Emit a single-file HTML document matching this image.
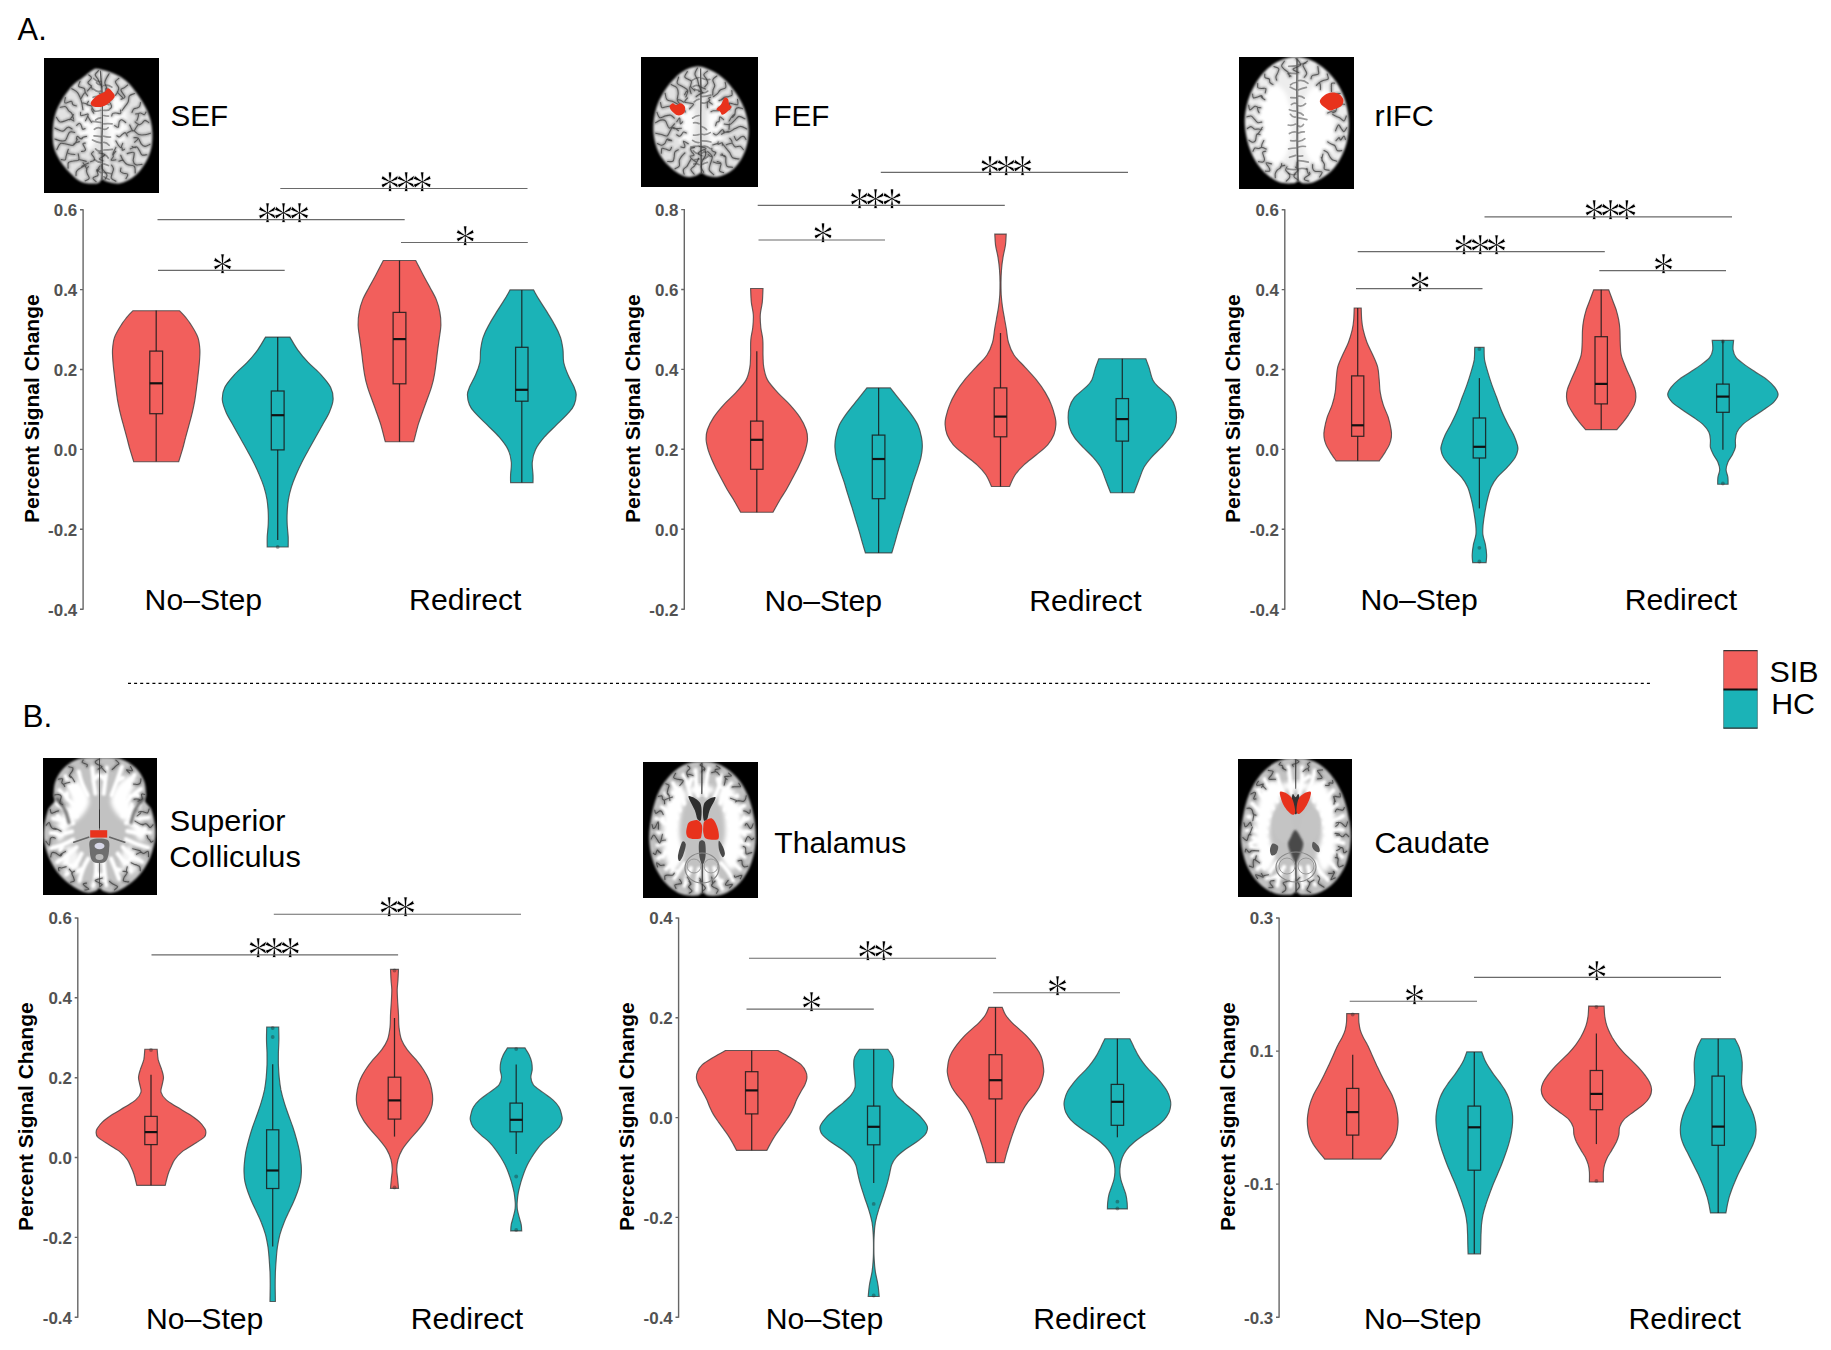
<!DOCTYPE html>
<html><head><meta charset="utf-8"><title>Figure</title>
<style>
html,body{margin:0;padding:0;background:#fff}
svg{display:block}
text{font-family:"Liberation Sans",sans-serif}
.tk{font-weight:bold;font-size:16px;fill:#525252;text-anchor:end}
.yl{font-weight:bold;font-size:21px;fill:#000;text-anchor:middle}
.lb{fill:#000}
.xl{font-size:30.2px;fill:#000}
.ax{stroke:#666;stroke-width:1.4;fill:none}
.sg{stroke:#6a6a6a;stroke-width:1.1}
.wk{stroke:#1a1a1a;stroke-width:1.25;stroke-opacity:.85}
.bx{stroke:#1a1a1a;stroke-width:1.25;stroke-opacity:.85}
.md{stroke:#111;stroke-width:2.2}
.as{font-family:"Liberation Serif",serif;font-size:44px;fill:#000;stroke:#fff;stroke-width:.6;text-anchor:middle}
</style></head><body>
<svg width="1831" height="1350" viewBox="0 0 1831 1350">
<rect width="1831" height="1350" fill="#fff"/>
<defs>
<filter id="b1" x="-10%" y="-10%" width="120%" height="120%"><feGaussianBlur stdDeviation="1.1"/></filter>
<filter id="b2" x="-10%" y="-10%" width="120%" height="120%"><feGaussianBlur stdDeviation="0.6"/></filter>
<filter id="b3" x="-20%" y="-20%" width="140%" height="140%"><feGaussianBlur stdDeviation="2.2"/></filter>
<filter id="b0" x="-10%" y="-10%" width="120%" height="120%"><feGaussianBlur stdDeviation="0.35"/></filter>
</defs>
<clipPath id="cp1"><rect x="44" y="58" width="115" height="135"/></clipPath>
<rect x="44" y="58" width="115" height="135" fill="#000"/>
<g clip-path="url(#cp1)">
<path d="M98.5 69.0C102.1 69.6 109.5 71.8 114.1 73.8C118.7 75.8 122.1 77.5 126.2 81.1C130.2 84.7 134.6 90.3 138.2 95.5C141.8 100.7 145.5 106.7 147.8 112.3C150.1 117.9 151.4 123.3 152.0 129.1C152.6 134.9 152.5 141.6 151.4 147.2C150.3 152.8 148.2 158.0 145.4 162.8C142.6 167.6 138.8 172.6 134.6 176.0C130.4 179.4 124.8 182.3 120.1 183.2C115.5 184.1 109.9 182.1 106.9 181.4C103.9 180.7 103.7 178.7 102.1 179.0C100.5 179.3 100.7 182.7 97.3 183.2C93.9 183.7 86.3 183.8 81.7 182.0C77.1 180.2 73.3 176.0 69.7 172.4C66.1 168.8 62.7 164.6 60.0 160.4C57.4 156.2 55.2 152.0 54.0 147.2C52.8 142.4 52.6 136.9 52.8 131.5C53.0 126.1 53.6 120.1 55.2 114.7C56.8 109.3 59.6 103.9 62.5 99.1C65.3 94.3 68.7 89.5 72.1 85.9C75.5 82.3 79.5 80.1 82.9 77.5C86.3 74.8 89.9 71.6 92.5 70.2C95.1 68.8 94.9 68.4 98.5 69.0Z" fill="#e2e2e2" filter="url(#b1)"/>
<ellipse cx="88" cy="122" rx="10" ry="28" fill="#fff" fill-opacity=".9" filter="url(#b3)"/><ellipse cx="117" cy="122" rx="10" ry="30" fill="#fff" fill-opacity=".9" filter="url(#b3)"/>
<path d="M100.8 81.4q-3.6 1.3 -7.1 -2.9M100.8 84.5q-2.1 0.8 -4.3 -1.8M103.8 85.5q4.0 -1.3 8.1 1.6M100.8 91.1q-3.6 1.6 -7.2 -1.9M103.8 92.7q4.4 -1.0 8.7 2.9M100.8 97.2q-3.8 -1.9 -7.7 0.1M103.8 97.1q3.0 -0.8 6.0 -2.6M100.8 103.6q-3.4 -1.6 -6.8 2.1M103.8 104.2q2.5 -0.7 5.1 0.5M100.8 110.3q-3.6 1.4 -7.1 0.7M103.8 110.3q2.5 0.0 4.9 -0.2M100.8 117.8q-2.6 -0.0 -5.2 2.2M103.8 115.5q2.3 0.5 4.6 0.6M100.8 122.5q-4.2 -0.7 -8.3 -1.1M103.8 123.8q4.2 -0.4 8.3 -0.0M100.8 128.3q-3.3 -1.9 -6.5 1.0M103.8 129.2q2.2 0.8 4.3 -1.5M100.8 136.7q-3.4 -0.8 -6.8 -0.9M103.8 136.2q3.3 1.0 6.7 0.8M100.8 142.9q-4.1 -0.7 -8.3 -2.9M103.8 142.4q2.6 -0.2 5.3 2.9M100.8 150.9q-2.6 1.1 -5.3 -2.0M103.8 150.0q4.3 -0.0 8.5 -0.6M103.8 155.5q2.2 -1.4 4.4 2.5M100.8 162.4q-3.1 -0.1 -6.3 -2.9M103.8 163.9q2.3 0.7 4.6 1.6M100.8 172.6q-2.0 -1.6 -4.0 -2.7M103.8 172.3q3.6 0.2 7.3 1.4M103.8 176.7q2.6 1.4 5.3 2.9" fill="none" stroke="#4a4a4a" stroke-width="1.7" stroke-linecap="round" stroke-opacity=".55" filter="url(#b2)"/><defs><path id="su1" d="M98.6 70.5C98.0 71.2 95.3 73.4 95.2 74.7C95.0 76.1 97.0 77.4 97.7 78.7C98.4 80.1 98.9 81.4 99.6 82.8C100.3 84.1 101.6 86.1 102.0 86.8M109.1 73.8C108.6 74.6 107.1 76.7 106.4 78.2C105.7 79.7 104.8 81.2 104.8 82.8C104.9 84.4 106.2 86.1 106.7 87.8C107.3 89.5 107.7 91.9 107.9 92.8M106.7 87.8q-2.0 -0.3 -0.0 8.2M118.9 78.4C118.4 79.0 115.4 80.3 115.4 81.8C115.3 83.3 118.2 85.8 118.6 87.5C119.0 89.1 118.3 90.4 117.7 91.7C117.2 93.1 115.7 94.8 115.3 95.5M117.7 91.7q-1.9 -0.7 5.0 6.0M127.6 85.0C127.1 85.4 125.5 86.8 124.4 87.6C123.2 88.5 120.8 88.6 120.9 90.1C121.0 91.7 125.0 95.5 125.0 97.0C125.0 98.5 121.7 98.8 121.0 99.2M134.6 93.5C133.7 93.9 130.5 94.5 129.4 95.9C128.4 97.3 128.9 100.1 128.2 101.8C127.5 103.5 126.2 104.7 125.2 106.1C124.2 107.6 122.6 109.7 122.1 110.4M140.5 102.6C140.3 103.3 140.1 105.6 139.5 106.5C138.8 107.4 137.6 107.6 136.7 108.1C135.7 108.5 134.3 108.4 133.6 109.1C132.8 109.9 132.3 111.9 132.0 112.4M146.0 112.1C145.7 112.5 145.1 114.6 144.3 114.7C143.4 114.9 141.7 113.1 140.7 113.0C139.7 112.8 139.1 113.5 138.2 113.7C137.4 113.8 136.0 113.9 135.6 114.0M138.2 113.7q0.8 1.8 -1.3 6.8M148.8 122.6C148.2 122.2 146.1 120.3 145.0 120.4C143.9 120.5 143.1 122.3 142.1 123.1C141.1 123.8 140.2 124.9 139.0 124.7C137.8 124.5 135.7 122.3 135.1 121.9M139.0 124.7q-0.3 -2.0 -4.7 6.1M150.4 133.3C149.4 133.6 146.4 134.6 144.5 134.8C142.5 135.0 140.6 135.2 138.7 134.5C136.8 133.8 135.0 130.7 133.1 130.5C131.2 130.2 128.2 132.6 127.2 133.0M133.1 130.5q-0.1 2.0 -3.4 -5.5M150.0 144.3C149.2 144.6 146.5 146.5 145.0 146.4C143.5 146.3 142.3 145.3 141.2 143.9C140.1 142.5 139.5 139.2 138.3 138.2C137.0 137.1 134.6 137.8 133.9 137.7M138.3 138.2q-0.5 1.9 -3.7 4.0M146.9 154.7C146.1 154.7 143.2 155.6 141.9 154.9C140.7 154.1 140.3 151.7 139.3 150.4C138.4 149.0 137.8 146.9 136.3 146.7C134.8 146.4 131.3 148.5 130.3 148.9M136.3 146.7q-0.9 1.8 -4.2 -0.1M142.1 164.4C141.1 164.5 137.4 165.4 135.9 164.8C134.4 164.2 133.5 162.9 133.2 160.8C132.9 158.8 135.0 153.7 134.0 152.5C133.0 151.3 128.4 153.4 127.2 153.6M135.2 172.9C135.1 171.8 135.6 167.7 134.3 166.3C132.9 164.9 129.2 165.6 127.3 164.6C125.5 163.6 124.4 162.1 123.3 160.6C122.2 159.0 121.1 156.2 120.7 155.3M123.3 160.6q1.5 -1.3 -4.4 0.6M126.0 178.6C126.3 177.9 128.2 175.2 127.8 174.4C127.4 173.5 124.9 173.7 123.7 173.3C122.5 172.8 121.0 172.5 120.6 171.6C120.1 170.8 120.9 168.7 121.0 168.1M115.9 181.3C115.1 180.8 112.0 179.5 111.3 178.2C110.7 177.0 111.8 175.2 112.1 173.6C112.5 172.1 113.6 170.3 113.5 168.9C113.4 167.4 112.0 165.7 111.6 165.1M105.2 179.1C105.5 178.5 107.1 176.5 107.0 175.2C106.9 174.0 105.5 172.9 104.7 171.7C103.9 170.6 102.6 169.4 102.1 168.2C101.6 167.1 101.8 165.2 101.7 164.6M96.1 181.6C95.6 181.0 92.6 179.1 92.9 178.1C93.2 177.0 97.1 176.3 97.9 175.3C98.7 174.3 97.2 173.1 97.5 172.0C97.7 170.9 99.1 169.4 99.4 168.9M97.5 172.0q-2.0 -0.2 2.5 -6.0M85.2 180.8C85.9 180.4 88.9 179.5 89.2 178.3C89.6 177.2 87.8 175.3 87.3 173.9C86.8 172.5 86.2 171.1 86.4 169.9C86.5 168.6 88.0 167.2 88.3 166.7M86.4 169.9q1.9 0.6 -3.3 -7.1M76.0 175.6C76.1 175.0 75.9 172.9 76.3 171.8C76.7 170.8 77.7 170.0 78.6 169.2C79.6 168.4 80.8 167.8 82.0 167.2C83.3 166.5 85.4 165.8 86.1 165.5M82.0 167.2q-1.7 -1.0 6.6 -4.1M68.1 168.1C68.2 167.2 67.6 163.8 68.4 162.6C69.3 161.4 71.5 161.4 73.2 161.0C74.9 160.5 77.9 161.2 78.7 160.0C79.6 158.8 78.3 154.8 78.2 153.7M78.7 160.0q-1.5 -1.3 7.5 1.4M61.3 159.6C62.0 159.6 64.4 160.5 65.2 159.9C66.0 159.3 65.8 157.4 66.1 156.2C66.5 154.9 66.8 153.7 67.2 152.5C67.5 151.3 68.2 149.7 68.4 149.2M67.2 152.5q1.2 1.6 7.7 2.0M56.8 149.6C57.4 148.6 58.7 144.4 60.4 143.5C62.1 142.6 64.8 144.0 67.0 144.3C69.2 144.6 71.9 146.0 73.6 145.1C75.3 144.2 76.7 140.2 77.3 139.2M73.6 145.1q-0.8 -1.8 5.8 -3.5M54.9 139.0C55.8 139.3 58.7 140.6 60.5 140.8C62.3 141.0 64.1 141.5 65.6 140.1C67.1 138.6 68.0 133.4 69.5 132.2C71.1 130.9 74.0 132.4 74.8 132.5M54.8 128.1C55.5 128.5 57.6 129.6 59.0 130.1C60.4 130.6 61.8 131.5 63.3 131.0C64.8 130.5 66.4 127.5 67.9 127.2C69.3 126.8 71.4 128.6 72.1 128.9M56.4 117.3C56.9 118.1 58.3 121.1 59.7 121.8C61.0 122.4 62.8 121.6 64.5 121.1C66.2 120.7 68.2 119.2 69.8 119.2C71.4 119.2 73.2 120.7 73.9 121.0M69.8 119.2q-0.6 1.9 3.7 -4.6M60.3 107.2C61.2 107.2 64.4 106.2 65.7 106.7C67.1 107.3 67.5 109.5 68.5 110.7C69.5 111.8 71.0 112.1 71.9 113.6C72.7 115.0 73.3 118.3 73.6 119.2M65.4 97.6C65.3 98.5 64.0 102.4 65.0 103.0C66.0 103.6 70.0 101.0 71.4 101.3C72.7 101.6 72.0 103.9 72.9 104.7C73.7 105.5 75.8 105.7 76.4 105.9M71.8 88.7C72.7 89.3 75.8 90.7 77.1 92.2C78.5 93.6 79.2 95.5 80.0 97.4C80.8 99.3 81.4 101.2 81.9 103.3C82.3 105.4 82.7 108.7 82.9 109.7M81.9 103.3q1.7 -1.1 6.5 1.6M80.0 81.5C79.8 82.3 78.0 85.3 78.7 86.4C79.4 87.6 83.1 87.5 84.2 88.5C85.3 89.5 84.7 91.2 85.3 92.4C85.8 93.6 87.2 95.3 87.6 95.8M85.3 92.4q-1.8 0.8 -4.0 5.9M88.7 74.8C89.2 75.3 91.7 76.7 91.5 78.0C91.4 79.3 88.0 81.3 87.9 82.6C87.8 83.9 90.2 84.6 90.9 85.7C91.6 86.8 92.1 88.6 92.3 89.2M90.9 85.7q2.0 -0.4 -3.4 5.1M99.6 93.3C100.0 93.8 102.3 95.0 102.1 96.0C102.0 96.9 99.7 97.8 98.8 98.8C97.9 99.7 97.0 100.6 96.7 101.5C96.4 102.4 97.1 103.8 97.1 104.2M112.0 99.3C111.5 99.6 109.0 100.0 108.8 100.8C108.6 101.7 110.5 103.2 110.9 104.2C111.4 105.3 111.7 106.3 111.5 107.1C111.3 107.9 109.9 108.7 109.6 109.1M120.5 110.0C120.5 110.6 121.3 113.1 120.5 113.6C119.8 114.1 117.4 113.0 116.1 113.0C114.8 113.0 113.5 112.9 112.8 113.4C112.0 113.9 111.9 115.5 111.7 115.9M125.8 122.6C125.2 122.1 122.9 119.9 121.8 119.7C120.7 119.6 119.9 120.3 119.3 121.5C118.7 122.8 119.0 126.6 118.2 127.2C117.4 127.9 115.2 125.9 114.6 125.6M127.3 136.1C127.0 135.5 126.1 133.0 125.3 132.7C124.5 132.4 123.4 133.6 122.4 134.3C121.3 135.0 120.2 136.7 119.2 136.9C118.3 137.1 117.2 135.9 116.8 135.7M124.4 149.4C124.0 149.5 122.6 150.3 122.2 150.1C121.9 149.9 122.4 148.6 122.2 148.1C122.0 147.7 121.2 148.1 121.3 147.3C121.3 146.5 122.5 144.0 122.7 143.3M121.3 147.3q-1.2 1.6 -5.4 -6.4M115.8 159.8C115.0 159.9 111.5 160.6 111.1 160.2C110.6 159.7 112.8 157.8 113.2 156.9C113.5 156.0 112.8 155.7 113.3 154.8C113.7 153.8 115.3 151.9 115.7 151.4M113.3 154.8q-1.8 0.9 2.6 -7.4M103.0 160.8C102.4 160.5 99.5 159.7 99.4 159.0C99.3 158.3 101.6 157.5 102.5 156.7C103.4 155.9 105.3 155.1 104.7 154.5C104.1 153.8 99.9 153.1 98.9 152.8M90.6 161.7C91.2 161.5 93.7 160.9 94.2 160.2C94.8 159.5 94.3 158.4 93.9 157.3C93.4 156.3 91.6 154.8 91.5 153.8C91.4 152.9 93.1 152.1 93.4 151.7M81.5 151.5C81.9 151.4 83.5 151.4 84.2 151.1C84.9 150.7 85.7 150.5 85.5 149.3C85.3 148.1 83.0 144.9 82.9 143.9C82.9 142.8 84.9 143.2 85.3 143.1M76.4 139.0C76.5 138.5 76.7 136.4 77.2 136.2C77.8 136.0 78.8 137.5 79.5 138.0C80.3 138.4 81.1 139.1 81.6 139.0C82.2 138.9 82.7 137.7 82.9 137.4M81.6 139.0q-0.6 -1.9 5.0 -2.6M76.7 125.4C77.1 125.0 78.7 123.2 79.5 123.2C80.2 123.2 80.7 124.4 81.2 125.3C81.8 126.3 82.0 128.6 82.6 129.2C83.3 129.7 84.6 128.7 85.1 128.6M80.6 112.4C80.6 112.9 80.1 115.2 80.8 115.6C81.4 116.0 83.3 115.2 84.5 115.0C85.7 114.8 88.0 113.4 88.2 114.4C88.4 115.3 85.9 119.7 85.5 120.7M88.2 114.4q-1.4 1.5 3.4 7.9M88.5 101.2C88.2 101.8 86.4 104.0 86.9 104.7C87.4 105.5 90.5 105.2 91.4 105.8C92.3 106.4 91.8 107.5 92.3 108.3C92.7 109.0 93.8 110.0 94.1 110.4M92.3 108.3q-1.8 0.8 1.4 4.9"/></defs><g fill="none" stroke-linecap="round"><use href="#su1" stroke="#555" stroke-width="3" stroke-opacity=".5" filter="url(#b1)"/><use href="#su1" stroke="#2a2a2a" stroke-width="1.1" stroke-opacity=".6" filter="url(#b2)"/></g>
<defs><path id="fi1" d="M100.3 70.8C100.6 74.5 101.7 85.4 102.1 93.1C102.5 100.8 102.8 109.1 102.7 117.1C102.7 125.1 101.9 133.1 101.9 141.2C101.8 149.2 102.4 158.8 102.4 165.2C102.4 171.6 102.0 177.2 101.9 179.6"/></defs><g fill="none"><use href="#fi1" stroke="#555" stroke-width="3.2" stroke-opacity=".45" filter="url(#b1)"/><use href="#fi1" stroke="#333" stroke-width="1.2" stroke-opacity=".7" filter="url(#b2)"/></g>
<path d="M90.7 102.7C91.3 100.8 95.0 97.3 97.3 95.5C99.6 93.7 102.7 93.1 104.5 91.9C106.3 90.7 106.7 88.2 108.1 88.3C109.5 88.4 111.8 91.1 112.9 92.5C114.0 93.9 115.1 95.2 114.7 96.7C114.3 98.2 111.8 100.2 110.5 101.5C109.2 102.8 108.5 103.6 106.9 104.5C105.3 105.4 103.1 106.6 100.9 106.9C98.7 107.2 95.4 107.2 93.7 106.5C92.0 105.8 90.1 104.5 90.7 102.7Z" fill="#E8311F" filter="url(#b0)"/>
</g>
<clipPath id="cp2"><rect x="641" y="57" width="117" height="130"/></clipPath>
<rect x="641" y="57" width="117" height="130" fill="#000"/>
<g clip-path="url(#cp2)">
<path d="M697.3 66.6C702.1 66.5 707.1 68.6 711.7 70.8C716.3 73.0 720.9 76.1 725.0 79.9C729.0 83.6 732.6 88.3 735.8 93.1C739.0 97.9 742.1 103.1 744.2 108.7C746.3 114.3 747.9 120.9 748.4 126.7C748.9 132.5 748.3 138.3 747.2 143.6C746.1 148.8 744.3 153.6 741.8 158.0C739.3 162.4 736.0 166.9 732.2 170.0C728.4 173.1 723.1 175.7 718.9 176.6C714.7 177.5 709.8 176.1 706.9 175.4C704.0 174.7 703.3 172.4 701.5 172.4C699.7 172.4 698.8 174.7 696.1 175.4C693.4 176.1 689.3 177.7 685.3 176.6C681.3 175.5 676.1 172.1 672.1 168.8C668.1 165.5 664.1 161.2 661.2 156.8C658.4 152.4 656.5 147.4 655.2 142.4C653.9 137.3 653.3 132.1 653.4 126.7C653.5 121.3 654.3 115.3 655.8 109.9C657.3 104.5 659.7 99.1 662.5 94.3C665.2 89.5 668.7 84.9 672.1 81.1C675.5 77.3 678.7 73.8 682.9 71.4C687.1 69.0 692.5 66.7 697.3 66.6Z" fill="#e2e2e2" filter="url(#b1)"/>
<ellipse cx="686" cy="122" rx="9" ry="26" fill="#fff" fill-opacity=".9" filter="url(#b3)"/><ellipse cx="716" cy="122" rx="9" ry="28" fill="#fff" fill-opacity=".9" filter="url(#b3)"/>
<path d="M699.1 77.5q-3.5 0.2 -7.0 2.9M702.1 78.3q3.8 1.9 7.7 1.1M699.1 85.8q-2.9 -1.1 -5.9 0.8M699.1 90.3q-2.2 -0.3 -4.5 -1.1M702.1 92.8q2.9 0.5 5.7 -1.7M699.1 99.2q-2.5 0.3 -4.9 2.7M702.1 96.7q4.4 -0.3 8.8 -1.7M702.1 102.9q2.2 0.7 4.3 -0.4M699.1 115.5q-3.2 -0.2 -6.5 2.7M699.1 123.6q-2.8 -1.2 -5.5 -0.8M702.1 126.7q2.3 0.6 4.5 2.9M699.1 134.5q-2.8 1.0 -5.6 0.7M702.1 134.2q4.1 1.2 8.1 -1.6M699.1 142.5q-3.2 0.4 -6.5 -2.1M702.1 140.8q4.4 -0.1 8.8 1.2M699.1 146.1q-4.1 0.1 -8.3 1.0M702.1 146.7q4.0 -1.7 8.1 2.0M699.1 153.6q-2.9 0.5 -5.8 -2.8M702.1 153.1q2.1 -1.7 4.2 -0.9M699.1 159.0q-2.1 0.6 -4.2 0.7M702.1 159.3q2.9 0.1 5.8 -2.9M699.1 164.7q-2.7 -1.7 -5.4 -0.7M702.1 164.5q2.6 -1.4 5.2 -2.1" fill="none" stroke="#4a4a4a" stroke-width="1.7" stroke-linecap="round" stroke-opacity=".55" filter="url(#b2)"/><defs><path id="su2" d="M697.4 68.1C697.0 69.1 694.9 72.1 694.9 74.0C694.9 75.9 696.8 77.7 697.5 79.6C698.1 81.5 698.2 83.4 698.9 85.3C699.5 87.2 700.9 90.0 701.3 90.9M698.9 85.3q-2.0 0.1 6.5 3.8M707.5 71.2C706.9 71.7 704.0 73.4 703.8 74.7C703.6 76.0 705.8 77.6 706.5 79.0C707.1 80.5 708.0 81.9 707.7 83.2C707.4 84.5 705.2 86.2 704.7 86.8M716.8 76.0C716.1 76.7 713.2 78.3 712.8 79.8C712.5 81.4 714.7 83.8 714.7 85.5C714.8 87.1 713.4 88.4 713.1 90.0C712.7 91.6 712.8 94.1 712.7 94.9M725.2 82.3C725.3 83.2 726.5 86.5 725.7 87.7C724.9 89.0 721.7 89.0 720.3 90.0C718.9 91.0 718.6 92.5 717.4 93.6C716.3 94.7 714.1 96.1 713.4 96.6M731.8 90.5C731.8 91.3 732.5 94.1 732.0 95.1C731.4 96.1 729.7 96.2 728.4 96.6C727.1 96.9 725.2 96.9 724.0 97.4C722.8 97.9 721.7 99.2 721.3 99.5M724.0 97.4q1.6 1.3 -5.0 3.2M737.5 99.4C737.5 100.2 738.5 103.9 737.8 104.6C737.1 105.4 734.9 104.3 733.4 104.0C731.9 103.8 729.4 102.4 728.8 103.2C728.1 104.0 729.3 108.0 729.4 108.9M728.8 103.2q1.3 1.6 0.8 6.3M742.4 108.6C741.8 108.5 739.5 107.5 738.4 107.6C737.3 107.7 736.2 108.0 735.6 109.2C735.0 110.3 735.3 113.3 734.8 114.7C734.2 116.0 732.9 116.8 732.5 117.3M734.8 114.7q-0.9 -1.8 -5.7 6.3M745.0 118.8C744.0 118.4 740.7 116.1 738.9 116.4C737.2 116.8 736.0 119.3 734.4 120.6C732.9 122.0 731.6 123.9 729.9 124.5C728.2 125.0 725.2 124.1 724.3 124.0M729.9 124.5q-0.5 -1.9 -0.9 4.6M746.7 129.0C745.7 128.6 742.8 126.4 740.8 126.4C738.9 126.3 736.9 127.7 735.0 128.6C733.0 129.5 731.1 131.4 729.1 131.9C727.2 132.5 724.2 131.9 723.2 131.9M729.1 131.9q-0.0 -2.0 -7.6 2.4M746.0 139.5C745.6 139.0 744.6 136.7 743.6 136.4C742.7 136.0 741.5 136.8 740.3 137.4C739.1 138.1 737.6 140.5 736.6 140.4C735.6 140.3 734.7 137.3 734.3 136.6M743.3 149.6C742.8 149.0 741.5 146.8 740.1 146.3C738.7 145.9 736.4 147.3 735.0 146.8C733.7 146.3 733.3 143.7 731.9 143.3C730.4 143.0 727.3 144.6 726.4 144.8M731.9 143.3q0.9 -1.8 -2.1 -4.9M739.0 159.0C738.0 158.8 734.2 158.9 732.7 157.8C731.1 156.7 730.7 154.1 729.6 152.4C728.4 150.8 727.0 149.4 725.8 147.9C724.6 146.4 722.8 144.0 722.1 143.2M732.5 167.3C731.5 167.1 728.1 167.2 727.0 166.3C725.9 165.4 726.0 163.4 725.8 161.8C725.5 160.1 726.4 157.5 725.5 156.4C724.7 155.3 721.4 155.2 720.6 155.0M725.5 156.4q-1.5 1.3 -3.5 -2.6M723.6 172.6C722.9 172.4 720.2 172.0 719.7 171.1C719.1 170.2 720.1 168.4 720.3 167.1C720.5 165.8 721.4 164.1 720.9 163.2C720.4 162.2 717.8 161.8 717.2 161.5M720.9 163.2q-1.8 0.9 -7.6 -1.3M713.7 174.7C712.9 173.9 709.7 171.7 709.2 169.8C708.7 167.9 710.1 165.4 710.6 163.2C711.1 161.0 712.8 158.4 712.3 156.5C711.8 154.6 708.5 152.4 707.7 151.6M712.3 156.5q-1.9 0.6 -4.1 -1.8M703.6 172.2C703.2 171.3 701.3 168.7 701.1 166.8C700.8 165.0 701.4 163.1 702.2 161.2C702.9 159.3 705.0 157.3 705.5 155.5C706.0 153.6 705.2 150.9 705.1 150.0M694.2 174.2C693.7 173.4 690.8 170.9 690.8 169.5C690.9 168.2 693.5 167.2 694.5 165.9C695.5 164.7 696.1 163.4 696.8 162.1C697.6 160.8 698.4 158.9 698.7 158.2M696.8 162.1q-2.0 -0.3 -6.3 -4.4M684.1 174.2C683.9 173.4 682.9 170.8 683.4 169.5C683.8 168.2 686.0 167.5 686.9 166.4C687.8 165.2 688.3 163.9 689.0 162.7C689.7 161.5 690.8 159.7 691.1 159.1M675.0 168.8C675.7 168.3 678.5 167.4 679.3 166.0C680.0 164.6 679.0 162.1 679.3 160.4C679.7 158.8 680.6 157.6 681.6 156.3C682.5 155.1 684.4 153.5 684.9 152.9M667.6 161.5C668.4 161.5 671.7 162.0 672.8 161.3C674.0 160.5 673.8 158.5 674.2 156.9C674.5 155.4 674.2 153.2 674.9 152.0C675.6 150.8 677.7 150.1 678.3 149.8M661.4 153.2C661.5 152.4 661.2 149.2 661.9 148.5C662.6 147.8 664.3 148.7 665.7 149.0C667.0 149.3 668.9 150.6 669.9 150.3C670.8 150.0 671.2 147.9 671.5 147.4M657.4 143.5C658.1 143.8 660.5 145.3 661.7 145.3C663.0 145.2 663.9 144.4 664.9 143.3C665.8 142.3 666.2 139.6 667.3 139.1C668.3 138.6 670.7 140.2 671.4 140.4M667.3 139.1q0.6 1.9 4.4 1.6M655.7 133.2C656.7 133.4 659.6 134.0 661.6 134.5C663.5 134.9 665.6 136.9 667.4 135.7C669.3 134.5 670.6 128.2 672.5 127.4C674.3 126.6 677.5 130.3 678.5 130.8M672.5 127.4q0.2 2.0 8.9 0.8M655.5 122.8C656.4 122.4 659.1 120.4 660.7 120.1C662.4 119.8 664.0 119.5 665.4 120.8C666.8 122.2 667.7 127.6 669.2 128.1C670.7 128.6 673.7 124.6 674.6 123.8M657.0 112.4C657.4 113.3 658.4 117.2 659.8 117.7C661.3 118.3 663.7 116.3 665.5 115.9C667.3 115.5 669.2 114.8 670.7 115.2C672.2 115.6 673.8 117.7 674.4 118.2M660.5 102.6C660.8 103.4 660.8 106.9 661.9 107.6C663.1 108.2 665.7 106.7 667.4 106.5C669.2 106.3 671.2 105.7 672.4 106.2C673.6 106.8 674.3 109.3 674.6 110.0M665.1 93.2C665.4 94.3 665.6 98.2 667.0 99.6C668.3 101.0 671.3 100.9 673.3 101.7C675.2 102.6 677.0 103.6 678.7 104.7C680.4 105.8 682.7 107.7 683.5 108.3M678.7 104.7q-1.4 1.4 4.3 6.8M671.2 84.6C672.1 85.1 675.5 86.1 676.7 87.5C677.9 88.9 678.1 90.9 678.2 93.0C678.3 95.1 677.0 98.1 677.3 100.1C677.7 102.0 679.9 103.8 680.4 104.5M677.3 100.1q1.7 -1.1 6.5 2.1M678.6 77.1C678.4 78.2 676.6 81.8 677.3 83.4C678.0 85.0 681.2 85.6 682.9 86.8C684.7 87.9 687.2 88.8 687.7 90.5C688.2 92.2 686.2 95.9 685.8 97.0M687.7 90.5q-1.8 0.8 -3.1 4.3M687.4 71.5C686.9 72.5 684.2 75.7 684.9 77.3C685.5 78.9 690.3 79.5 691.3 81.1C692.2 82.6 690.1 84.8 690.6 86.4C691.2 88.0 694.1 90.0 694.8 90.7M690.6 86.4q-2.0 0.4 0.5 7.2M698.7 91.2C699.4 91.4 702.6 91.9 702.9 92.3C703.2 92.8 701.3 93.3 700.5 93.8C699.7 94.3 698.6 94.8 697.9 95.2C697.2 95.7 696.4 96.4 696.1 96.7M710.5 97.2C710.2 97.3 708.7 97.7 708.6 98.2C708.5 98.7 709.8 99.6 709.8 100.2C709.7 100.7 708.1 100.7 708.5 101.4C708.9 102.0 711.6 103.7 712.2 104.2M708.5 101.4q-1.9 -0.6 -0.9 6.3M718.8 107.4C718.8 107.9 719.5 109.8 719.1 110.4C718.7 111.0 717.4 110.8 716.4 110.8C715.4 110.9 714.0 110.6 713.1 110.7C712.2 110.9 711.3 111.5 711.0 111.7M723.6 119.6C723.0 119.2 720.6 116.6 719.8 116.9C719.1 117.2 719.6 120.5 719.1 121.4C718.5 122.3 717.3 121.5 716.8 122.2C716.2 123.0 715.8 125.1 715.6 125.7M725.0 132.6C724.6 132.1 723.5 129.5 722.5 129.6C721.6 129.6 720.4 131.7 719.3 132.6C718.3 133.5 717.1 134.9 716.2 135.0C715.2 135.2 714.0 133.8 713.5 133.6M722.3 145.3C722.4 144.9 722.8 143.1 722.5 142.8C722.2 142.4 721.3 142.9 720.5 143.2C719.8 143.4 718.4 144.6 718.0 144.3C717.6 144.1 718.2 142.2 718.2 141.7M718.0 144.3q1.2 -1.6 -5.3 0.6M714.3 155.4C714.5 154.9 715.9 153.1 715.8 152.5C715.6 151.8 714.1 152.0 713.4 151.6C712.8 151.2 712.2 150.9 711.9 150.3C711.6 149.7 711.8 148.6 711.8 148.2M702.0 155.8C701.4 155.5 698.5 154.5 698.2 153.7C697.9 152.9 699.0 152.1 700.3 151.2C701.6 150.3 706.1 149.2 706.0 148.5C705.8 147.7 700.5 146.8 699.4 146.5M690.1 156.2C690.8 156.0 693.9 155.9 694.1 155.1C694.3 154.3 692.0 152.5 691.4 151.4C690.9 150.3 690.2 149.2 690.7 148.5C691.2 147.9 693.8 147.6 694.5 147.4M680.9 146.9C681.5 147.1 683.4 147.8 684.1 147.6C684.8 147.4 685.0 146.7 684.9 145.7C684.8 144.6 682.9 141.5 683.4 141.2C684.0 140.9 687.5 143.3 688.3 143.8M676.7 134.7C677.2 134.9 678.8 136.3 679.6 136.3C680.4 136.2 681.0 135.2 681.7 134.5C682.3 133.7 682.8 132.2 683.6 132.0C684.4 131.7 685.8 132.8 686.3 133.0M676.8 121.7C677.2 121.1 678.9 118.3 679.4 118.1C680.0 118.0 679.9 119.8 680.0 120.8C680.2 121.8 680.0 123.8 680.5 124.0C680.9 124.2 682.3 122.3 682.6 121.9M680.3 109.0C680.0 109.6 678.2 112.4 678.6 112.6C679.1 112.8 681.8 110.7 682.9 110.4C683.9 110.0 684.5 110.1 684.9 110.4C685.3 110.6 685.1 111.8 685.2 112.1M687.5 97.9C687.1 98.6 684.3 101.2 684.7 102.0C685.0 102.9 688.0 102.6 689.4 103.0C690.9 103.4 693.5 103.3 693.5 104.3C693.5 105.2 690.2 108.1 689.5 108.8"/></defs><g fill="none" stroke-linecap="round"><use href="#su2" stroke="#555" stroke-width="3" stroke-opacity=".5" filter="url(#b1)"/><use href="#su2" stroke="#2a2a2a" stroke-width="1.1" stroke-opacity=".6" filter="url(#b2)"/></g>
<defs><path id="fi2" d="M700.3 68.4C700.4 72.5 700.9 85.0 700.9 93.1C701.0 101.2 700.6 109.1 700.6 117.1C700.6 125.1 700.8 133.1 700.9 141.2C701.0 149.2 701.2 159.8 701.3 165.2C701.4 170.6 701.5 172.2 701.5 173.6"/></defs><g fill="none"><use href="#fi2" stroke="#555" stroke-width="3.2" stroke-opacity=".45" filter="url(#b1)"/><use href="#fi2" stroke="#333" stroke-width="1.2" stroke-opacity=".7" filter="url(#b2)"/></g>
<path d="M669.7 106.3C670.0 105.2 671.6 103.5 672.7 103.3C673.8 103.1 675.0 105.1 676.3 105.1C677.6 105.1 679.1 103.1 680.5 103.3C681.9 103.5 684.0 104.9 684.7 106.3C685.4 107.7 685.2 110.3 684.7 111.7C684.2 113.1 682.9 114.1 681.7 114.7C680.5 115.3 678.8 115.6 677.5 115.3C676.2 115.0 675.0 113.8 673.9 112.9C672.8 112.0 671.6 111.0 670.9 109.9C670.2 108.8 669.4 107.4 669.7 106.3Z" fill="#E8311F" filter="url(#b0)"/><path d="M716.5 109.3C716.7 108.0 720.0 105.8 721.3 103.9C722.6 102.0 723.2 98.7 724.4 97.9C725.5 97.1 727.2 98.0 728.0 99.1C728.8 100.2 728.6 103.2 729.2 104.5C729.8 105.8 731.8 105.8 731.6 106.9C731.4 108.0 729.2 109.9 728.0 111.1C726.8 112.3 725.4 113.5 724.4 114.1C723.3 114.7 722.6 115.1 721.9 114.7C721.2 114.3 721.0 112.6 720.1 111.7C719.2 110.8 716.3 110.6 716.5 109.3Z" fill="#E8311F" filter="url(#b0)"/>
</g>
<clipPath id="cp3"><rect x="1239" y="57" width="115" height="132"/></clipPath>
<rect x="1239" y="57" width="115" height="132" fill="#000"/>
<g clip-path="url(#cp3)">
<path d="M1295.9 57.0C1301.1 57.0 1306.5 58.4 1311.5 60.6C1316.5 62.8 1321.6 66.2 1326.0 70.2C1330.4 74.2 1334.7 79.3 1338.0 84.7C1341.3 90.1 1344.0 96.3 1345.8 102.7C1347.6 109.1 1348.7 116.3 1348.8 123.1C1348.9 129.9 1348.0 137.3 1346.4 143.6C1344.8 149.8 1342.2 155.4 1339.2 160.4C1336.2 165.4 1332.6 170.0 1328.4 173.6C1324.2 177.2 1318.1 180.4 1313.9 182.0C1309.7 183.6 1305.7 183.4 1303.1 183.2C1300.5 183.0 1299.9 180.8 1298.3 180.8C1296.7 180.8 1296.7 183.0 1293.5 183.2C1290.3 183.4 1283.9 183.8 1279.1 182.0C1274.3 180.2 1268.9 176.4 1264.7 172.4C1260.5 168.4 1256.8 163.4 1253.8 158.0C1250.9 152.6 1248.7 146.2 1247.2 140.0C1245.7 133.7 1244.7 127.1 1244.8 120.7C1244.9 114.3 1246.1 107.5 1247.8 101.5C1249.5 95.5 1252.0 89.9 1255.0 84.7C1258.1 79.5 1261.7 74.2 1265.9 70.2C1270.1 66.2 1275.3 62.8 1280.3 60.6C1285.3 58.4 1290.7 57.0 1295.9 57.0Z" fill="#ededed" filter="url(#b1)"/>
<ellipse cx="1275" cy="125" rx="17" ry="40" fill="#fff" filter="url(#b3)"/><ellipse cx="1318" cy="125" rx="17" ry="40" fill="#fff" filter="url(#b3)"/>
<path d="M1297.2 66.0V178.0" stroke="#8a8a8a" stroke-width="9" stroke-opacity=".55" fill="none" filter="url(#b3)"/><path d="M1295.7 65.9q-3.5 0.3 -7.0 0.4M1298.7 64.8q3.6 -1.0 7.1 -1.8M1295.7 73.6q-3.1 -0.3 -6.1 -0.5M1295.7 82.5q-2.6 -0.1 -5.2 2.3M1298.7 80.6q4.7 -1.1 9.3 2.7M1295.7 89.8q-2.8 -1.1 -5.6 -2.7M1298.7 89.8q3.8 -1.7 7.7 -2.5M1295.7 97.8q-2.4 -0.1 -4.9 -0.2M1298.7 96.1q2.7 -0.4 5.5 2.1M1295.7 103.3q-2.2 -0.4 -4.4 1.3M1298.7 105.8q3.5 1.3 6.9 -2.2M1295.7 111.1q-3.2 -0.0 -6.3 -1.4M1298.7 112.6q2.3 0.1 4.6 2.6M1295.7 117.0q-2.7 0.9 -5.3 -2.7M1298.7 117.9q4.1 0.7 8.2 1.7M1295.7 124.1q-3.8 2.0 -7.5 0.9M1298.7 126.0q2.4 1.9 4.8 -1.6M1295.7 132.0q-3.2 -0.4 -6.3 1.5M1298.7 133.1q2.8 -1.5 5.6 -1.2M1295.7 140.6q-2.5 0.5 -5.0 -0.0M1298.7 141.3q3.1 -0.0 6.2 -2.6M1295.7 148.0q-3.6 0.1 -7.1 0.8M1298.7 147.0q3.4 -1.2 6.7 -0.5M1295.7 155.4q-3.1 1.1 -6.2 1.9M1298.7 156.2q2.0 -0.1 4.0 -0.3M1298.7 160.7q4.8 0.5 9.6 1.4M1295.7 169.5q-4.1 0.4 -8.1 -0.6M1298.7 168.8q4.3 -1.1 8.6 0.6M1295.7 174.2q-3.5 1.4 -7.0 -0.8" fill="none" stroke="#4a4a4a" stroke-width="1.7" stroke-linecap="round" stroke-opacity=".55" filter="url(#b2)"/><defs><path id="su3" d="M1295.9 58.5C1296.5 59.1 1298.7 60.8 1299.4 62.0C1300.1 63.2 1301.2 64.4 1300.1 65.5C1299.1 66.7 1293.2 68.0 1293.0 69.2C1292.7 70.3 1297.8 72.0 1298.8 72.6M1307.5 61.2C1306.8 61.8 1303.5 63.3 1303.0 64.6C1302.6 65.9 1304.1 67.6 1304.7 69.0C1305.3 70.5 1306.8 72.1 1306.7 73.5C1306.7 74.9 1304.7 76.6 1304.3 77.2M1317.9 66.6C1318.0 67.3 1318.3 69.2 1318.3 70.4C1318.4 71.7 1319.4 73.2 1318.3 74.1C1317.3 74.9 1313.5 74.8 1312.3 75.6C1311.1 76.4 1311.2 78.2 1311.0 78.8M1327.2 73.9C1327.3 74.7 1328.8 77.8 1328.2 78.9C1327.5 80.0 1324.7 79.9 1323.2 80.5C1321.7 81.1 1320.3 81.8 1319.2 82.6C1318.1 83.5 1316.9 85.0 1316.4 85.4M1319.2 82.6q1.7 1.0 1.2 7.0M1334.7 83.1C1334.2 83.1 1332.3 82.9 1331.8 83.3C1331.2 83.8 1331.4 84.9 1331.4 85.7C1331.3 86.6 1331.4 87.6 1331.4 88.6C1331.4 89.5 1331.5 90.9 1331.5 91.4M1340.2 93.5C1339.5 93.5 1337.2 93.4 1336.0 93.7C1334.8 94.1 1333.5 94.2 1333.0 95.6C1332.6 96.9 1334.2 100.8 1333.4 101.7C1332.6 102.6 1329.3 101.1 1328.4 101.0M1333.4 101.7q-1.2 -1.6 -3.7 2.1M1344.6 104.4C1343.9 104.3 1341.6 103.8 1340.4 104.1C1339.1 104.4 1338.0 104.8 1337.2 106.1C1336.4 107.3 1336.5 110.3 1335.7 111.4C1334.8 112.6 1332.8 112.5 1332.2 112.8M1335.7 111.4q-0.9 -1.8 -8.1 1.7M1346.3 116.1C1345.9 116.9 1345.1 120.7 1344.0 121.0C1343.0 121.4 1341.4 118.9 1340.1 118.1C1338.8 117.4 1337.7 117.0 1336.4 116.4C1335.2 115.8 1333.3 114.9 1332.7 114.5M1346.7 127.8C1346.3 128.4 1344.8 131.6 1343.9 131.7C1343.0 131.7 1342.1 129.4 1341.1 128.3C1340.2 127.1 1339.3 124.5 1338.4 124.9C1337.4 125.3 1336.0 129.8 1335.5 130.8M1345.4 139.5C1345.1 138.9 1344.8 135.9 1344.0 136.0C1343.2 136.0 1341.5 139.7 1340.7 140.0C1339.9 140.3 1339.8 137.5 1339.1 137.6C1338.3 137.7 1336.5 140.2 1336.0 140.7M1341.7 150.6C1341.0 150.6 1338.3 151.3 1337.2 150.5C1336.0 149.6 1335.9 146.9 1335.0 145.8C1334.0 144.7 1332.4 144.7 1331.2 144.0C1330.0 143.4 1328.3 142.3 1327.7 141.9M1336.6 161.2C1335.9 160.9 1333.5 160.5 1332.4 159.8C1331.2 159.0 1330.5 157.7 1329.7 156.5C1328.9 155.3 1328.6 153.6 1327.7 152.6C1326.7 151.5 1324.6 150.8 1324.0 150.5M1329.2 170.3C1328.4 170.1 1325.2 170.1 1324.4 169.1C1323.6 168.1 1324.7 165.8 1324.4 164.4C1324.1 163.0 1323.1 162.2 1322.6 161.0C1322.1 159.8 1321.5 157.8 1321.3 157.2M1322.6 161.0q-1.6 1.2 0.3 -6.9M1319.6 177.0C1320.0 176.2 1322.8 172.9 1322.0 172.0C1321.2 171.0 1316.5 171.9 1314.9 171.3C1313.4 170.7 1313.1 169.6 1312.7 168.4C1312.3 167.3 1312.7 165.2 1312.6 164.6M1308.7 181.1C1308.1 180.9 1305.4 180.4 1304.7 179.8C1304.1 179.3 1304.2 178.5 1305.0 177.6C1305.8 176.7 1308.9 175.3 1309.7 174.4C1310.4 173.5 1309.5 172.7 1309.4 172.3M1309.7 174.4q-2.0 0.4 -2.9 -5.9M1297.6 179.7C1297.0 179.2 1294.4 177.6 1294.0 176.6C1293.6 175.5 1294.4 174.5 1295.1 173.4C1295.8 172.4 1298.1 171.3 1298.1 170.2C1298.2 169.2 1296.0 167.6 1295.5 167.1M1298.1 170.2q-2.0 0.0 -0.9 -8.2M1286.3 181.1C1286.8 180.6 1288.7 179.2 1289.3 178.1C1289.8 177.0 1290.1 175.8 1289.5 174.5C1288.9 173.2 1286.1 171.5 1285.7 170.2C1285.3 168.9 1286.8 167.4 1287.0 166.8M1275.3 177.7C1275.3 177.0 1275.0 174.8 1275.3 173.5C1275.7 172.3 1276.3 171.2 1277.2 170.1C1278.1 169.1 1280.0 168.5 1280.8 167.4C1281.5 166.4 1281.5 164.3 1281.7 163.6M1280.8 167.4q-1.8 -0.8 3.9 -2.0M1265.5 171.1C1266.2 171.1 1268.9 171.6 1269.5 171.1C1270.1 170.6 1269.8 169.3 1269.2 168.0C1268.6 166.6 1265.7 163.6 1266.1 162.9C1266.5 162.2 1270.7 163.7 1271.6 163.9M1258.5 161.6C1259.2 161.7 1261.9 162.4 1263.0 162.0C1264.0 161.6 1264.6 160.8 1264.5 159.2C1264.5 157.6 1262.4 153.8 1262.6 152.5C1262.8 151.2 1265.2 151.5 1265.7 151.3M1253.0 151.3C1253.3 150.8 1253.9 148.5 1254.8 148.0C1255.8 147.6 1257.5 148.6 1258.7 148.5C1259.9 148.4 1260.5 147.3 1261.8 147.4C1263.0 147.5 1265.5 148.7 1266.3 149.0M1261.8 147.4q-1.0 -1.7 2.0 -6.9M1248.9 140.3C1249.6 140.6 1251.6 142.1 1252.6 142.2C1253.7 142.3 1254.7 142.1 1255.4 140.8C1256.1 139.5 1256.0 135.3 1256.8 134.2C1257.5 133.2 1259.5 134.6 1260.0 134.6M1256.8 134.2q0.5 1.9 5.5 -6.9M1247.3 128.6C1247.9 128.3 1249.7 126.5 1250.9 126.6C1252.1 126.7 1253.4 128.7 1254.6 129.1C1255.9 129.5 1257.1 128.9 1258.3 129.0C1259.5 129.1 1261.3 129.5 1261.9 129.6M1246.9 116.9C1247.6 116.8 1249.9 115.6 1251.1 116.0C1252.4 116.4 1253.3 118.1 1254.4 119.2C1255.5 120.3 1256.5 122.1 1257.7 122.6C1258.9 123.1 1261.1 122.2 1261.8 122.1M1248.7 105.2C1248.9 106.0 1248.9 109.7 1250.0 109.9C1251.0 110.0 1253.6 106.7 1254.9 106.3C1256.2 105.9 1256.8 107.0 1257.8 107.3C1258.8 107.5 1260.4 107.8 1260.9 107.8M1257.8 107.3q-0.8 1.8 1.3 5.4M1252.6 94.1C1252.7 94.7 1252.6 97.1 1253.3 97.7C1254.0 98.2 1255.5 97.6 1256.9 97.3C1258.2 97.0 1260.4 95.5 1261.4 95.6C1262.4 95.8 1262.7 97.7 1262.9 98.1M1261.4 95.6q-1.2 1.6 3.5 4.2M1257.7 83.5C1257.8 84.2 1257.3 86.6 1257.8 87.5C1258.4 88.3 1259.8 88.4 1261.2 88.5C1262.5 88.7 1265.1 87.7 1265.7 88.5C1266.4 89.2 1265.3 92.3 1265.2 93.0M1264.8 74.0C1264.8 74.6 1264.4 76.8 1265.1 77.6C1265.8 78.5 1268.4 78.2 1269.2 79.0C1270.0 79.8 1269.3 81.5 1269.9 82.4C1270.5 83.3 1272.4 84.1 1272.9 84.4M1273.9 66.6C1274.7 66.9 1278.1 67.5 1278.7 68.5C1279.4 69.4 1278.3 71.0 1277.9 72.4C1277.4 73.8 1276.1 75.5 1275.9 76.8C1275.7 78.1 1276.6 79.6 1276.7 80.2M1284.4 61.2C1283.9 62.0 1281.6 64.5 1281.6 65.8C1281.6 67.2 1283.3 68.3 1284.4 69.4C1285.6 70.6 1287.7 71.5 1288.5 72.8C1289.4 74.0 1289.2 76.0 1289.4 76.7M1288.5 72.8q-2.0 0.4 2.4 3.5"/></defs><g fill="none" stroke-linecap="round"><use href="#su3" stroke="#555" stroke-width="3" stroke-opacity=".5" filter="url(#b1)"/><use href="#su3" stroke="#2a2a2a" stroke-width="1.1" stroke-opacity=".6" filter="url(#b2)"/></g>
<defs><path id="fi3" d="M1297.1 58.2C1297.1 64.0 1296.8 83.3 1296.9 93.1C1296.9 102.9 1297.3 109.1 1297.4 117.1C1297.4 125.1 1297.1 133.1 1297.1 141.2C1297.2 149.2 1297.6 158.5 1297.7 165.2C1297.9 171.9 1298.0 178.7 1298.1 181.4"/></defs><g fill="none"><use href="#fi3" stroke="#555" stroke-width="3.2" stroke-opacity=".45" filter="url(#b1)"/><use href="#fi3" stroke="#333" stroke-width="1.2" stroke-opacity=".7" filter="url(#b2)"/></g>
<path d="M1320.0 100.3C1320.6 98.7 1322.8 96.2 1324.8 94.9C1326.8 93.6 1329.6 92.6 1332.0 92.5C1334.4 92.4 1337.3 93.1 1339.2 94.3C1341.1 95.5 1343.0 97.8 1343.4 99.7C1343.8 101.6 1342.9 104.2 1341.6 105.7C1340.3 107.2 1337.6 107.9 1335.6 108.7C1333.6 109.5 1331.4 110.7 1329.6 110.5C1327.8 110.3 1326.2 108.5 1324.8 107.5C1323.4 106.5 1322.0 105.7 1321.2 104.5C1320.4 103.3 1319.4 101.9 1320.0 100.3Z" fill="#E8311F" filter="url(#b0)"/>
</g>
<clipPath id="cp4"><rect x="43" y="758" width="114" height="137"/></clipPath>
<rect x="43" y="758" width="114" height="137" fill="#000"/>
<g clip-path="url(#cp4)">
<path d="M99.5 757.4C106.6 757.4 114.7 757.2 120.7 759.0C126.8 760.8 132.1 764.5 136.0 768.2C139.9 772.0 142.5 777.0 144.2 781.3C145.8 785.7 145.8 791.0 146.0 794.4C146.2 797.7 144.4 798.9 145.2 801.4C146.1 804.0 149.6 805.3 151.2 809.6C152.9 813.9 154.6 821.6 155.1 827.0C155.7 832.5 155.5 836.8 154.5 842.3C153.5 847.7 151.6 854.3 149.1 859.7C146.5 865.1 143.2 870.4 139.3 874.9C135.3 879.5 129.6 884.0 125.1 886.9C120.6 889.9 115.7 891.9 112.0 892.6C108.4 893.3 105.4 891.8 103.3 891.1C101.2 890.3 100.8 888.0 99.5 888.0C98.2 888.0 97.8 890.3 95.7 891.1C93.6 891.8 90.6 893.3 87.0 892.6C83.4 891.9 78.5 889.9 73.9 886.9C69.4 884.0 63.8 879.5 59.8 874.9C55.8 870.4 52.5 865.1 50.0 859.7C47.4 854.3 45.5 847.7 44.5 842.3C43.6 836.8 43.7 832.5 44.3 827.0C44.9 821.6 46.7 813.9 48.3 809.6C50.0 805.3 53.5 804.0 54.3 801.4C55.2 798.9 53.4 797.7 53.6 794.4C53.8 791.0 53.8 785.7 55.4 781.3C57.1 777.0 59.8 772.0 63.6 768.2C67.4 764.5 72.3 760.8 78.3 759.0C84.3 757.2 92.4 757.4 99.5 757.4Z" fill="#c2c2c2" filter="url(#b1)"/>
<path d="M69.5 775.7C72.2 775.7 78.8 780.5 82.1 784.7C85.4 788.9 89.3 795.8 89.3 800.9C89.3 806.0 85.4 811.2 82.1 815.4C78.8 819.6 73.1 822.0 69.5 826.2C65.9 830.4 62.9 839.4 60.5 840.6C58.1 841.8 54.8 837.6 55.1 833.4C55.4 829.2 59.6 820.8 62.3 815.4C65.0 809.9 70.7 806.0 71.3 800.9C71.9 795.8 66.2 788.9 65.9 784.7C65.6 780.5 66.8 775.7 69.5 775.7Z" fill="#fff" filter="url(#b3)"/><path d="M130.8 775.7C128.1 775.7 121.5 780.5 118.1 784.7C114.8 788.9 110.9 795.8 110.9 800.9C110.9 806.0 114.8 811.2 118.1 815.4C121.5 819.6 127.2 822.0 130.8 826.2C134.4 830.4 137.4 839.4 139.8 840.6C142.2 841.8 145.5 837.6 145.2 833.4C144.9 829.2 140.7 820.8 138.0 815.4C135.3 809.9 129.6 806.0 129.0 800.9C128.4 795.8 134.1 788.9 134.4 784.7C134.7 780.5 133.5 775.7 130.8 775.7Z" fill="#fff" filter="url(#b3)"/><ellipse cx="70" cy="860" rx="9" ry="14" fill="#fff" fill-opacity=".8" filter="url(#b3)"/><ellipse cx="130" cy="860" rx="9" ry="14" fill="#fff" fill-opacity=".8" filter="url(#b3)"/>
<path d="M103.7 793.7Q105.3 780.6 106.7 767.6M105.3 780.6l-4.0 -4.5M111.8 795.2Q117.2 781.0 121.9 766.7M117.2 781.0l5.7 -3.1M118.5 799.9Q126.1 787.1 134.6 774.8M122.2 807.3Q129.5 796.2 140.9 789.0M129.5 796.2l8.8 -0.0M122.6 815.6Q130.5 809.4 139.7 805.3M130.5 809.4l1.1 -5.0M126.2 822.9Q137.0 818.3 148.7 817.5M137.0 818.3l3.5 -7.5M127.3 831.1Q138.5 833.8 150.1 832.6M138.5 833.8l7.0 -5.4M126.0 839.3Q136.7 844.6 148.2 847.7M122.8 847.0Q130.7 856.7 142.2 861.8M130.7 856.7l0.4 7.2M117.7 853.6Q124.9 861.8 130.8 871.1M124.9 861.8l6.6 1.5M111.1 858.7Q115.5 868.7 119.1 879.0M115.5 868.7l8.3 2.6M103.3 860.5Q104.5 873.0 106.2 885.3M104.5 873.0l-5.7 6.1M96.1 860.5Q97.4 873.7 93.1 886.3M97.4 873.7l5.7 6.3M88.2 858.8Q81.7 869.0 79.5 881.0M81.7 869.0l-5.2 2.6M81.6 853.7Q76.0 865.7 66.2 874.5M76.0 865.7l-7.2 0.3M76.5 847.2Q67.6 855.6 57.2 862.1M67.6 855.6l-1.6 8.4M73.2 839.6Q62.9 845.6 51.2 848.1M62.9 845.6l-2.4 5.1M72.0 831.4Q61.7 834.7 51.0 832.9M61.7 834.7l-5.8 -4.5M73.1 823.1Q63.0 821.1 52.9 818.4M63.0 821.1l-5.5 -5.5M76.7 815.8Q66.7 810.5 57.2 804.2M77.2 807.6Q67.5 799.7 59.4 790.2M67.5 799.7l-0.5 -6.6M80.8 800.1Q72.2 788.8 65.5 776.4M87.3 795.2Q81.0 784.1 78.8 771.5M95.4 793.7Q93.3 780.8 92.3 767.7M93.3 780.8l4.6 -5.4" fill="none" stroke="#fff" stroke-width="4.2" stroke-linecap="round" filter="url(#b1)"/>
<defs><path id="su4" d="M99.5 758.9C98.8 759.3 95.7 760.6 95.3 761.5C94.8 762.3 95.7 763.2 96.8 764.0C97.9 764.9 101.8 765.8 102.0 766.6C102.2 767.5 98.8 768.8 98.1 769.2M102.0 766.6q-2.0 0.0 3.8 5.5M115.8 760.1C116.4 760.6 118.7 762.5 118.9 763.4C119.0 764.3 117.3 764.7 116.5 765.4C115.8 766.1 115.2 766.8 114.5 767.5C113.8 768.2 112.6 769.2 112.2 769.5M130.5 766.6C130.7 767.0 131.5 768.3 131.8 769.0C132.0 769.6 132.9 770.6 132.0 770.8C131.2 770.9 127.1 769.5 126.7 769.8C126.2 770.2 129.0 772.4 129.5 772.9M140.9 778.8C140.9 779.2 140.9 780.6 140.7 781.4C140.5 782.2 140.3 783.0 139.8 783.5C139.3 784.0 138.6 784.4 137.6 784.5C136.6 784.6 134.3 784.1 133.6 784.1M144.7 794.5C144.2 794.5 142.0 793.5 141.6 794.3C141.2 795.1 142.5 798.1 142.3 799.0C142.1 800.0 140.9 799.8 140.2 800.2C139.5 800.5 138.4 801.0 138.0 801.1M140.2 800.2q-1.2 -1.6 -6.2 -1.0M149.1 809.1C148.8 809.7 148.4 812.3 147.6 812.8C146.8 813.3 145.5 812.6 144.4 812.3C143.3 812.0 142.0 811.2 141.0 811.2C140.0 811.2 138.9 812.1 138.5 812.2M141.0 811.2q0.8 1.9 -3.9 4.7M153.1 824.8C152.6 825.2 151.2 827.6 150.1 827.5C149.0 827.3 147.7 824.4 146.6 823.9C145.5 823.3 144.5 824.2 143.4 824.3C142.3 824.3 140.7 824.2 140.2 824.2M143.4 824.3q0.2 2.0 -8.4 -3.2M153.1 841.0C152.7 841.2 151.6 842.3 151.0 842.1C150.4 841.9 150.1 840.5 149.7 839.9C149.2 839.3 148.6 839.3 148.1 838.5C147.7 837.8 147.2 836.0 147.0 835.5M148.5 856.6C148.4 855.7 148.9 851.9 148.1 851.4C147.2 850.9 144.7 853.4 143.5 853.5C142.4 853.7 142.1 852.2 140.9 852.3C139.7 852.4 137.3 853.9 136.5 854.2M140.9 852.3q1.0 -1.7 -8.3 -3.5M140.3 870.6C140.2 870.0 140.3 867.8 139.8 866.9C139.3 866.0 138.2 865.7 137.2 865.3C136.2 864.8 135.0 864.6 134.0 864.2C133.0 863.8 131.7 863.0 131.2 862.8M128.7 881.9C127.9 881.8 124.5 882.0 123.7 881.2C122.9 880.5 123.4 879.1 124.0 877.6C124.6 876.2 127.5 873.4 127.3 872.3C127.2 871.3 123.7 871.5 122.9 871.3M127.3 872.3q-1.7 1.0 -0.1 -5.4M114.6 889.8C115.1 889.3 117.6 887.5 117.6 886.7C117.6 885.9 115.8 885.5 114.8 884.9C113.8 884.4 112.5 883.9 111.7 883.3C110.8 882.7 109.9 881.7 109.5 881.4M99.7 886.6C100.1 886.3 102.4 885.2 102.2 884.5C102.0 883.8 99.5 883.1 98.3 882.4C97.2 881.7 94.6 881.0 95.3 880.3C95.9 879.6 101.2 878.5 102.4 878.1M84.8 890.0C85.5 889.9 88.7 889.7 88.8 889.1C88.9 888.6 86.4 887.3 85.4 886.5C84.5 885.6 82.9 884.6 83.1 884.1C83.3 883.5 85.9 883.2 86.5 883.1M70.6 882.2C71.2 882.0 73.7 881.7 74.2 880.9C74.7 880.1 73.8 878.5 73.4 877.2C73.0 875.9 71.6 874.1 71.8 873.1C71.9 872.1 73.9 871.5 74.3 871.2M71.8 873.1q1.8 1.0 -2.5 -3.9M59.0 871.0C58.9 870.4 58.1 868.2 58.6 867.8C59.1 867.3 60.9 868.1 61.8 868.0C62.7 867.9 63.2 867.4 63.9 867.2C64.7 867.0 65.9 866.8 66.3 866.7M50.7 857.0C50.9 856.3 51.0 853.6 51.8 852.9C52.5 852.2 53.7 852.2 55.1 852.7C56.6 853.2 59.2 855.9 60.4 856.0C61.6 856.1 62.0 853.7 62.3 853.3M60.4 856.0q-1.0 -1.7 5.1 -4.6M46.0 841.4C46.5 842.0 48.6 845.6 49.3 845.1C50.1 844.6 49.8 839.9 50.4 838.6C50.9 837.3 51.7 837.3 52.6 837.2C53.4 837.2 54.8 838.1 55.3 838.2M46.3 825.2C46.7 824.8 48.2 822.3 49.1 822.6C49.9 823.0 50.5 826.2 51.3 827.2C52.1 828.3 52.9 828.5 53.7 828.9C54.6 829.3 55.8 829.4 56.3 829.5M53.7 828.9q0.2 -2.0 7.4 2.3M50.2 809.5C50.4 810.0 50.6 812.3 51.1 812.9C51.6 813.4 52.5 813.0 53.3 812.8C54.1 812.6 55.1 812.0 55.9 811.6C56.8 811.3 58.0 811.0 58.4 810.9M54.8 794.9C55.5 794.9 57.7 794.4 58.8 794.6C59.8 794.8 61.0 795.0 61.2 796.3C61.3 797.7 59.7 801.5 59.9 802.9C60.1 804.2 61.9 804.2 62.4 804.5M58.4 779.2C59.1 779.1 62.0 778.3 62.6 778.9C63.1 779.5 61.6 781.7 61.8 782.7C61.9 783.6 63.0 783.7 63.5 784.4C64.0 785.0 64.5 786.1 64.7 786.5M63.5 784.4q1.5 -1.3 6.4 -2.1M68.7 766.8C69.3 767.0 72.1 767.1 72.7 767.8C73.3 768.5 72.9 769.7 72.3 771.0C71.7 772.3 69.4 774.5 69.2 775.6C69.0 776.7 70.7 777.3 71.0 777.7M69.2 775.6q1.8 -0.9 5.4 6.2M83.2 760.1C83.0 760.5 82.0 761.6 82.2 762.2C82.5 762.8 83.9 763.1 84.7 763.5C85.5 764.0 86.9 764.3 87.3 764.8C87.6 765.4 86.9 766.5 86.8 766.8"/></defs><g fill="none" stroke-linecap="round"><use href="#su4" stroke="#555" stroke-width="3" stroke-opacity=".5" filter="url(#b1)"/><use href="#su4" stroke="#2a2a2a" stroke-width="1.1" stroke-opacity=".6" filter="url(#b2)"/></g>
<defs><path id="fi4" d="M99.6 758.6C99.5 762.3 99.2 772.8 99.2 781.1C99.2 789.4 99.6 800.0 99.6 808.1C99.6 816.3 99.3 826.2 99.2 829.8M99.8 862.2C99.8 866.1 99.8 881.7 99.8 885.7"/></defs><g fill="none"><use href="#fi4" stroke="#555" stroke-width="3.2" stroke-opacity=".45" filter="url(#b1)"/><use href="#fi4" stroke="#333" stroke-width="1.2" stroke-opacity=".7" filter="url(#b2)"/></g>
<path d="M91.1 839.7C94.1 838.0 104.3 838.0 107.3 839.7C110.3 841.3 109.3 846.1 109.1 849.6C109.0 853.1 108.1 858.2 106.4 860.4C104.8 862.7 101.6 863.1 99.2 863.1C96.8 863.1 93.6 862.7 92.0 860.4C90.4 858.2 89.8 853.1 89.7 849.6C89.5 846.1 88.2 841.3 91.1 839.7Z" fill="#6e6e6e" filter="url(#b2)"/><ellipse cx="99.5" cy="846" rx="5" ry="3.2" fill="#d8d8e8" filter="url(#b2)"/><ellipse cx="99.5" cy="857" rx="4" ry="3" fill="#bbb" filter="url(#b2)"/><path d="M89.3 837.0L73.1 842.4M109.1 837.0L125.4 842.4" stroke="#666" stroke-width="1.6" filter="url(#b2)"/><g fill="none" stroke="#444" stroke-opacity=".7" stroke-width="3.4" stroke-linecap="round" filter="url(#b1)"><path d="M57.1 798.7C57.8 799.6 60.0 802.0 61.4 804.2C62.9 806.3 64.5 808.7 65.8 811.8C67.0 814.9 68.5 820.9 69.0 822.7"/><path d="M143.1 798.7C142.3 799.6 140.2 802.0 138.7 804.2C137.3 806.3 135.6 808.7 134.4 811.8C133.1 814.9 131.6 820.9 131.1 822.7"/></g><path d="M99.7 809.6C99.7 811.1 99.6 815.2 99.6 818.3C99.6 821.4 99.7 826.5 99.7 828.1" fill="none" stroke="#2e2e2e" stroke-width="2" stroke-opacity=".85" filter="url(#b2)"/><rect x="90.2" y="830.2" width="17" height="7.4" fill="#E8311F" filter="url(#b0)"/>
</g>
<clipPath id="cp5"><rect x="643" y="762" width="115" height="136"/></clipPath>
<rect x="643" y="762" width="115" height="136" fill="#000"/>
<g clip-path="url(#cp5)">
<path d="M702.0 761.6C708.3 761.6 715.1 762.5 720.9 765.2C726.8 767.9 732.7 772.7 737.2 777.9C741.7 783.0 745.1 789.0 748.0 795.9C750.8 802.8 753.0 811.5 754.3 819.3C755.5 827.1 756.1 835.2 755.5 842.7C754.9 850.2 753.3 857.8 750.7 864.4C748.1 871.0 744.4 877.4 739.9 882.4C735.4 887.4 728.9 891.9 723.6 894.1C718.4 896.3 711.8 895.7 708.3 895.4C704.8 895.1 704.4 892.3 702.6 892.3C700.7 892.3 701.1 895.1 697.5 895.4C694.0 895.7 686.7 896.3 681.3 894.1C675.9 891.9 669.6 887.4 665.1 882.4C660.6 877.4 656.9 871.0 654.2 864.4C651.6 857.8 649.9 850.2 649.4 842.7C648.8 835.2 649.7 827.1 651.0 819.3C652.3 811.5 654.2 802.8 657.0 795.9C659.7 789.0 663.4 783.0 667.8 777.9C672.1 772.7 677.4 767.9 683.1 765.2C688.8 762.5 695.7 761.6 702.0 761.6Z" fill="#c2c2c2" filter="url(#b1)"/>
<path d="M674.1 786.9C677.7 784.5 685.5 789.9 686.7 794.1C687.9 798.3 682.5 805.5 681.3 812.1C680.1 818.7 679.2 826.5 679.5 833.7C679.8 840.9 684.0 849.3 683.1 855.4C682.2 861.4 677.1 869.5 674.1 869.8C671.1 870.1 666.9 863.2 665.1 857.2C663.3 851.2 663.3 841.8 663.3 833.7C663.3 825.6 663.3 816.3 665.1 808.5C666.9 800.7 670.5 789.3 674.1 786.9Z" fill="#fff" filter="url(#b3)"/><path d="M730.9 786.9C727.2 784.5 719.4 789.9 718.2 794.1C717.0 798.3 722.4 805.5 723.6 812.1C724.8 818.7 725.7 826.5 725.4 833.7C725.1 840.9 720.9 849.3 721.8 855.4C722.7 861.4 727.8 869.5 730.9 869.8C733.9 870.1 738.1 863.2 739.9 857.2C741.7 851.2 741.7 841.8 741.7 833.7C741.7 825.6 741.7 816.3 739.9 808.5C738.1 800.7 734.5 789.3 730.9 786.9Z" fill="#fff" filter="url(#b3)"/><ellipse cx="701.5" cy="790" rx="13" ry="5" fill="#fff" filter="url(#b3)"/>
<path d="M706.2 796.1Q704.9 782.0 708.8 768.5M713.9 798.3Q720.0 787.4 720.9 775.1M720.0 787.4l-2.4 -8.7M720.4 803.3Q724.1 792.5 731.2 783.5M724.1 792.5l-0.1 -6.5M725.0 810.0Q729.1 801.2 737.2 795.7M729.1 801.2l-0.3 -6.9M728.4 817.4Q735.0 809.7 744.2 805.7M735.0 809.7l7.1 1.8M730.5 825.3Q740.3 823.8 748.4 818.2M740.3 823.8l3.9 -6.6M731.3 833.4Q740.4 831.1 749.8 831.4M740.4 831.1l5.7 5.0M731.3 841.5Q740.4 840.3 748.6 844.6M740.4 840.3l3.7 4.3M729.5 849.5Q737.9 851.4 744.5 856.8M737.9 851.4l7.1 -1.2M726.0 856.8Q732.9 863.1 740.1 869.0M721.0 863.1Q728.8 870.7 733.2 880.6M714.4 867.9Q716.6 879.1 722.3 888.9M716.6 879.1l5.5 2.2M706.3 868.8Q705.5 879.4 708.8 889.5M699.0 868.8Q697.7 879.6 696.7 890.5M690.9 868.2Q686.8 876.5 684.5 885.6M686.8 876.5l1.6 5.0M684.2 863.4Q679.2 870.7 674.3 878.1M679.2 870.7l-7.4 2.1M679.2 857.2Q672.8 863.2 666.1 868.8M672.8 863.2l-0.1 5.6M675.5 849.9Q665.6 851.6 658.3 858.5M665.6 851.6l-2.6 5.2M673.7 841.9Q665.4 842.0 657.7 845.0M673.7 833.8Q665.6 835.5 657.9 832.4M674.5 825.7Q664.8 823.7 656.2 818.7M664.8 823.7l-2.1 -5.8M676.5 817.8Q668.9 813.0 661.9 807.2M668.9 813.0l-5.1 1.0M679.7 810.3Q673.3 801.0 665.0 793.4M673.3 801.0l0.8 -7.7M684.2 803.5Q679.3 792.9 672.9 783.1M679.3 792.9l0.8 -7.6M690.5 798.3Q689.3 785.9 683.2 775.0M689.3 785.9l2.4 -8.2M698.2 796.1Q695.4 783.2 695.5 770.1" fill="none" stroke="#fff" stroke-width="4.2" stroke-linecap="round" filter="url(#b1)"/>
<defs><path id="su5" d="M702.0 763.1C701.7 763.4 699.9 764.4 700.1 765.0C700.3 765.7 702.5 766.3 703.3 766.9C704.1 767.5 704.8 768.2 704.9 768.8C705.1 769.4 704.3 770.4 704.2 770.7M704.9 768.8q-2.0 0.0 -3.2 3.1M716.3 765.9C717.0 766.3 720.2 768.0 720.1 768.6C719.9 769.2 716.0 769.1 715.2 769.6C714.4 770.1 716.0 771.0 715.4 771.5C714.8 772.1 712.1 772.5 711.5 772.7M715.4 771.5q2.0 0.4 3.9 3.3M728.6 773.1C729.1 773.5 731.5 775.4 731.4 776.0C731.3 776.5 729.1 776.2 728.0 776.4C726.9 776.5 724.8 776.2 724.6 776.8C724.5 777.3 726.6 779.1 727.0 779.5M724.6 776.8q1.8 0.8 -0.4 8.4M738.8 783.2C739.1 783.8 740.7 785.9 740.5 786.5C740.3 787.1 738.7 786.7 737.7 786.7C736.8 786.7 735.7 786.7 734.7 786.8C733.8 786.8 732.5 787.0 732.0 787.0M746.2 795.8C746.1 796.4 745.9 798.4 745.4 799.3C744.9 800.2 744.4 801.2 743.2 801.4C742.1 801.6 739.7 800.5 738.4 800.6C737.1 800.6 736.0 801.7 735.5 801.9M738.4 800.6q1.4 1.5 -7.9 -2.4M750.2 809.7C750.2 810.2 750.3 812.1 750.1 812.6C749.8 813.2 749.3 813.4 748.6 813.2C747.9 812.9 746.5 811.5 745.7 811.2C744.9 810.8 744.1 811.0 743.8 810.9M753.1 823.8C752.9 824.4 752.4 826.6 751.8 827.3C751.3 828.0 750.9 828.9 750.0 828.2C749.2 827.6 747.6 824.1 746.8 823.6C746.0 823.1 745.4 825.0 745.2 825.3M753.8 838.3C753.4 838.5 752.4 839.8 751.7 839.6C751.0 839.5 750.3 837.9 749.6 837.5C749.0 837.0 748.3 836.1 747.6 836.7C746.8 837.4 745.7 840.6 745.3 841.4M751.8 852.5C751.3 852.6 749.8 853.2 748.9 853.4C747.9 853.6 746.7 854.6 746.1 853.7C745.6 852.8 745.9 849.0 745.4 847.8C744.9 846.6 743.6 846.6 743.2 846.4M747.8 866.3C747.2 866.4 745.0 867.1 744.1 866.8C743.2 866.5 742.7 865.6 742.3 864.5C741.9 863.5 742.4 861.1 741.7 860.5C741.0 859.9 738.7 860.8 738.1 860.9M740.4 878.7C740.7 878.1 742.3 875.6 742.0 875.2C741.8 874.8 739.9 875.8 738.7 876.1C737.6 876.4 735.9 877.3 735.2 877.2C734.4 877.2 734.5 876.1 734.4 875.8M729.5 888.0C730.0 887.4 732.9 884.9 732.4 884.4C732.0 884.0 727.9 885.4 726.7 885.3C725.6 885.2 725.3 884.7 725.6 883.9C725.8 883.0 727.8 881.0 728.2 880.4M716.5 893.2C716.8 892.6 718.5 890.7 718.1 889.7C717.8 888.8 715.5 888.3 714.4 887.6C713.3 886.8 711.4 886.3 711.5 885.2C711.7 884.2 714.5 881.9 715.1 881.2M711.5 885.2q1.9 -0.5 0.2 -8.2M702.8 890.9C703.2 890.5 705.3 889.1 705.4 888.2C705.6 887.3 704.5 886.4 703.7 885.5C703.0 884.6 701.3 883.7 700.7 882.8C700.0 881.9 700.0 880.6 699.8 880.2M700.7 882.8q2.0 -0.0 -0.9 -4.5M689.2 893.2C689.6 892.8 692.1 891.9 692.0 890.9C691.9 889.8 688.9 888.1 688.6 887.0C688.3 886.0 690.3 885.4 690.4 884.4C690.4 883.4 689.2 881.6 688.9 881.1M690.4 884.4q1.9 0.5 -3.2 -7.4M676.0 888.5C675.8 887.9 674.4 885.9 674.8 885.1C675.1 884.4 677.0 884.5 678.1 884.1C679.3 883.8 681.3 883.9 681.6 883.2C681.9 882.4 680.0 880.1 679.7 879.5M664.9 879.4C664.9 878.8 664.4 876.5 664.9 875.8C665.5 875.1 667.0 875.2 668.2 875.1C669.4 875.0 671.4 875.5 672.4 875.2C673.4 874.8 674.0 873.5 674.3 873.2M657.5 866.9C657.4 866.2 656.2 863.0 656.7 862.8C657.2 862.5 659.5 864.9 660.4 865.4C661.4 865.8 661.7 865.3 662.3 865.2C663.0 865.2 663.9 865.1 664.2 865.1M653.3 853.2C653.6 853.4 655.0 854.7 655.5 854.5C656.0 854.3 656.1 852.7 656.4 851.9C656.8 851.2 656.9 849.9 657.6 850.0C658.2 850.2 659.9 852.5 660.4 853.0M657.6 850.0q0.6 1.9 3.2 2.9M651.1 839.0C651.6 838.3 652.8 834.9 653.8 835.0C654.8 835.0 655.9 837.8 656.9 839.1C657.9 840.4 659.0 843.5 660.0 842.7C660.9 841.9 662.0 835.8 662.4 834.4M660.0 842.7q-0.1 -2.0 5.4 -2.7M652.1 824.6C652.3 825.2 652.6 827.8 653.1 828.3C653.6 828.7 654.3 828.4 655.2 827.3C656.0 826.3 657.7 821.6 658.3 821.9C658.8 822.2 658.4 827.9 658.4 829.1M654.8 810.4C654.9 810.9 655.0 813.3 655.8 813.4C656.7 813.4 658.8 811.1 659.9 810.9C660.9 810.7 661.4 811.4 662.0 812.0C662.5 812.6 663.0 814.2 663.2 814.6M658.4 796.4C659.0 796.3 661.2 795.6 661.9 796.0C662.6 796.5 662.1 798.2 662.5 799.0C662.9 799.7 664.0 799.7 664.3 800.5C664.7 801.3 664.5 803.3 664.6 803.8M664.3 800.5q1.3 -1.5 8.3 -3.5M665.8 783.8C666.3 784.0 668.6 784.2 669.0 785.2C669.4 786.1 668.2 788.1 667.9 789.5C667.7 790.9 667.0 792.5 667.3 793.6C667.5 794.6 669.0 795.4 669.4 795.7M667.3 793.6q1.6 -1.1 2.6 6.8M675.6 773.3C675.3 774.0 673.2 776.6 673.6 777.6C674.0 778.6 676.4 778.8 678.0 779.3C679.6 779.8 682.9 779.5 683.2 780.6C683.5 781.6 680.4 784.7 679.8 785.5M687.7 765.9C688.1 766.3 690.0 767.2 689.9 768.2C689.8 769.1 687.8 770.4 687.2 771.4C686.7 772.5 686.7 773.4 686.9 774.3C687.0 775.1 687.9 776.3 688.1 776.7M686.9 774.3q2.0 -0.4 6.1 1.3"/></defs><g fill="none" stroke-linecap="round"><use href="#su5" stroke="#555" stroke-width="3" stroke-opacity=".5" filter="url(#b1)"/><use href="#su5" stroke="#2a2a2a" stroke-width="1.1" stroke-opacity=".6" filter="url(#b2)"/></g>
<defs><path id="fi5" d="M702.0 763.4C702.0 768.5 701.7 789.0 701.7 794.1M702.4 855.4C702.4 861.7 702.5 886.9 702.6 893.2"/></defs><g fill="none"><use href="#fi5" stroke="#555" stroke-width="3.2" stroke-opacity=".45" filter="url(#b1)"/><use href="#fi5" stroke="#333" stroke-width="1.2" stroke-opacity=".7" filter="url(#b2)"/></g>
<path d="M688.5 796.2C689.4 795.0 698.1 799.2 700.2 803.1C702.3 806.9 701.6 816.6 701.1 819.3C700.7 822.0 698.6 820.8 697.5 819.3C696.5 817.8 696.3 814.1 694.8 810.3C693.3 806.5 687.6 797.4 688.5 796.2Z" fill="#2e2e2e" filter="url(#b2)"/><path d="M715.5 797.3C714.7 796.1 706.4 799.4 704.4 803.1C702.3 806.8 703.0 816.6 703.5 819.3C703.9 822.0 706.0 820.8 707.1 819.3C708.1 817.8 708.2 814.0 709.6 810.3C711.0 806.6 716.4 798.5 715.5 797.3Z" fill="#2e2e2e" filter="url(#b2)"/><path d="M682.2 841.8C683.5 840.0 685.6 842.3 685.8 844.5C685.9 846.8 684.1 852.6 683.1 855.4C682.0 858.1 680.3 861.1 679.5 861.1C678.6 861.1 677.6 858.6 678.0 855.4C678.5 852.1 680.9 843.6 682.2 841.8Z" fill="#4a4a4a" filter="url(#b2)"/><path d="M718.8 840.9C719.4 840.3 721.7 844.2 722.7 846.3C723.8 848.4 724.9 851.8 724.9 853.6C724.9 855.4 723.7 857.8 722.7 857.2C721.8 856.6 719.8 852.7 719.1 849.9C718.5 847.2 718.2 841.5 718.8 840.9Z" fill="#4a4a4a" filter="url(#b2)"/><path d="M699.3 841.8C700.2 839.6 703.7 839.6 704.7 841.8C705.8 844.1 706.0 851.6 705.6 855.4C705.3 859.1 703.6 864.4 702.6 864.4C701.5 864.4 699.8 859.1 699.3 855.4C698.8 851.6 698.4 844.1 699.3 841.8Z" fill="#4d4d4d" filter="url(#b2)"/><ellipse cx="702" cy="868" rx="17" ry="15" fill="none" stroke="#888" stroke-width="1.2" filter="url(#b2)"/><ellipse cx="694" cy="866" rx="7" ry="7" fill="none" stroke="#999" stroke-width="1" filter="url(#b2)"/><ellipse cx="711" cy="866" rx="7" ry="7" fill="none" stroke="#999" stroke-width="1" filter="url(#b2)"/><path d="M689.4 822.0C691.1 821.0 695.4 819.6 697.5 820.2C699.6 820.8 701.4 823.1 702.0 825.6C702.7 828.2 701.9 833.3 701.5 835.5C701.0 837.7 701.3 838.3 699.3 838.8C697.3 839.2 691.6 839.1 689.4 838.2C687.2 837.4 686.7 835.7 686.3 833.7C685.9 831.8 686.5 828.5 687.1 826.5C687.6 824.6 687.7 823.1 689.4 822.0Z" fill="#E8311F" filter="url(#b0)"/><path d="M704.7 821.1C706.2 819.8 710.0 817.8 711.9 818.4C713.9 819.0 715.3 822.2 716.4 824.7C717.6 827.3 718.6 831.3 718.8 833.7C718.9 836.2 719.4 838.7 717.3 839.5C715.3 840.3 708.8 839.7 706.5 838.8C704.2 837.8 704.0 835.8 703.5 833.7C702.9 831.7 703.1 828.6 703.3 826.5C703.5 824.4 703.3 822.5 704.7 821.1Z" fill="#E8311F" filter="url(#b0)"/>
</g>
<clipPath id="cp6"><rect x="1238" y="759" width="114" height="138"/></clipPath>
<rect x="1238" y="759" width="114" height="138" fill="#000"/>
<g clip-path="url(#cp6)">
<path d="M1295.2 758.0C1301.4 758.0 1308.3 758.9 1314.1 761.6C1320.0 764.3 1325.7 768.8 1330.4 774.2C1335.0 779.7 1339.0 786.9 1342.1 794.1C1345.1 801.3 1347.3 809.7 1348.7 817.5C1350.2 825.3 1351.1 833.1 1350.5 840.9C1350.0 848.7 1348.4 857.5 1345.7 864.4C1342.9 871.3 1338.6 877.6 1334.0 882.4C1329.3 887.2 1323.1 891.2 1317.7 893.2C1312.3 895.3 1305.1 894.9 1301.5 894.7C1297.9 894.4 1297.9 891.8 1296.1 891.8C1294.3 891.8 1294.3 894.4 1290.7 894.7C1287.1 894.9 1279.9 895.3 1274.5 893.2C1269.1 891.2 1262.9 887.2 1258.3 882.4C1253.6 877.6 1249.4 871.3 1246.5 864.4C1243.7 857.5 1241.7 848.7 1241.1 840.9C1240.5 833.1 1241.6 825.3 1242.9 817.5C1244.3 809.7 1246.2 801.3 1249.2 794.1C1252.3 786.9 1256.3 779.7 1261.0 774.2C1265.6 768.8 1271.5 764.3 1277.2 761.6C1282.9 758.9 1289.1 758.0 1295.2 758.0Z" fill="#c2c2c2" filter="url(#b1)"/>
<path d="M1269.1 781.5C1273.6 778.8 1284.4 784.2 1285.3 788.7C1286.2 793.2 1277.2 801.0 1274.5 808.5C1271.8 816.0 1269.1 825.6 1269.1 833.7C1269.1 841.8 1274.8 850.9 1274.5 857.2C1274.2 863.5 1270.1 871.6 1267.3 871.6C1264.4 871.6 1259.3 863.5 1257.4 857.2C1255.4 850.9 1255.4 842.4 1255.6 833.7C1255.7 825.0 1256.0 813.6 1258.3 804.9C1260.5 796.2 1264.6 784.2 1269.1 781.5Z" fill="#fff" filter="url(#b3)"/><path d="M1322.2 781.5C1317.7 778.8 1306.9 784.2 1306.0 788.7C1305.1 793.2 1314.1 801.0 1316.8 808.5C1319.5 816.0 1322.2 825.6 1322.2 833.7C1322.2 841.8 1316.5 850.9 1316.8 857.2C1317.1 863.5 1321.2 871.6 1324.0 871.6C1326.9 871.6 1332.0 863.5 1334.0 857.2C1335.9 850.9 1335.9 842.4 1335.8 833.7C1335.6 825.0 1335.3 813.6 1333.1 804.9C1330.8 796.2 1326.8 784.2 1322.2 781.5Z" fill="#fff" filter="url(#b3)"/><ellipse cx="1296" cy="786" rx="14" ry="4.5" fill="#fff" filter="url(#b3)"/>
<path d="M1299.6 793.4Q1303.1 780.5 1302.0 767.3M1303.1 780.5l5.8 -4.0M1307.5 795.7Q1312.5 783.5 1314.9 770.5M1314.1 800.9Q1317.2 790.7 1323.9 782.4M1318.6 807.8Q1324.8 798.2 1333.3 790.4M1322.1 815.3Q1329.0 809.2 1336.9 804.4M1329.0 809.2l2.4 -5.9M1324.4 823.4Q1334.5 821.6 1343.0 816.0M1334.5 821.6l4.6 2.6M1325.4 831.6Q1333.7 828.3 1342.6 829.8M1325.6 839.9Q1334.5 841.1 1343.4 843.0M1334.5 841.1l5.5 -4.0M1323.9 848.1Q1333.8 851.1 1342.3 856.9M1333.8 851.1l4.9 -2.1M1320.3 855.6Q1329.8 860.5 1336.2 869.0M1315.2 862.0Q1319.5 872.4 1327.9 879.8M1319.5 872.4l0.2 6.5M1308.3 866.7Q1309.4 876.5 1315.2 884.5M1309.4 876.5l-2.9 7.1M1300.0 867.6Q1301.1 877.6 1302.5 887.6M1292.5 867.7Q1293.3 877.1 1290.5 886.2M1293.3 877.1l-3.8 5.3M1284.1 866.9Q1278.3 875.4 1277.3 885.6M1278.3 875.4l-7.7 4.0M1277.2 862.3Q1270.5 869.3 1266.5 878.1M1271.9 856.0Q1265.0 862.7 1257.4 868.8M1265.0 862.7l-0.7 5.5M1268.2 848.6Q1259.2 850.1 1252.5 856.4M1259.2 850.1l-8.1 -3.4M1266.3 840.5Q1257.9 839.6 1250.3 843.5M1257.9 839.6l-5.2 -2.5M1266.2 832.2Q1256.6 830.9 1246.8 830.5M1256.6 830.9l-3.8 -4.1M1267.1 823.9Q1258.6 818.0 1248.2 816.7M1258.6 818.0l-6.0 2.5M1269.3 815.8Q1259.0 812.0 1252.0 803.4M1272.7 808.2Q1264.6 799.4 1256.9 790.2M1264.6 799.4l0.3 -5.9M1277.1 801.2Q1268.6 791.5 1264.7 779.1M1268.6 791.5l-8.4 -3.2M1283.7 796.0Q1279.0 786.0 1277.1 775.1M1291.4 793.4Q1290.5 780.1 1288.5 766.9" fill="none" stroke="#fff" stroke-width="4.2" stroke-linecap="round" filter="url(#b1)"/>
<defs><path id="su6" d="M1295.2 759.5C1295.8 759.8 1298.3 760.6 1298.7 761.2C1299.1 761.7 1298.5 762.3 1297.5 762.9C1296.5 763.5 1293.2 764.0 1292.5 764.6C1291.8 765.2 1293.2 766.0 1293.4 766.3M1309.9 762.3C1309.5 762.6 1307.7 763.4 1307.5 764.1C1307.4 764.8 1308.9 765.8 1309.0 766.5C1309.2 767.3 1308.2 767.8 1308.2 768.5C1308.1 769.2 1308.6 770.4 1308.7 770.8M1308.2 768.5q-2.0 -0.4 -5.1 3.0M1322.4 769.9C1321.6 770.0 1318.0 769.9 1317.6 770.6C1317.2 771.4 1319.2 773.1 1319.9 774.3C1320.7 775.5 1322.4 777.1 1322.0 777.9C1321.6 778.6 1318.4 778.7 1317.7 778.9M1332.5 780.5C1332.5 780.9 1333.3 782.7 1332.8 783.1C1332.2 783.5 1329.7 782.6 1329.1 783.0C1328.5 783.4 1329.7 785.0 1329.1 785.4C1328.5 785.8 1326.2 785.4 1325.6 785.4M1339.9 793.3C1340.0 793.9 1340.7 796.4 1340.2 796.9C1339.7 797.4 1337.9 796.6 1336.8 796.6C1335.8 796.5 1334.0 795.7 1333.7 796.6C1333.5 797.4 1335.1 800.8 1335.4 801.6M1333.7 796.6q1.4 1.5 0.3 7.5M1344.4 807.5C1344.1 807.9 1343.7 809.6 1342.9 810.0C1342.2 810.4 1340.9 809.9 1339.9 809.7C1338.9 809.6 1337.5 808.9 1336.8 809.2C1336.0 809.6 1335.5 811.3 1335.3 811.7M1347.6 821.9C1347.3 822.7 1346.7 826.3 1345.8 826.6C1344.9 826.9 1343.2 824.4 1342.1 823.6C1340.9 822.9 1339.7 822.2 1338.7 822.2C1337.7 822.1 1336.4 823.0 1336.0 823.1M1338.7 822.2q0.5 1.9 -2.9 4.2M1348.7 836.6C1348.2 836.2 1346.8 834.0 1345.8 834.0C1344.8 834.0 1343.7 836.6 1342.6 836.8C1341.6 837.0 1340.7 835.6 1339.7 835.3C1338.7 835.1 1337.2 835.2 1336.6 835.1M1339.7 835.3q0.1 -2.0 -4.6 -1.9M1346.9 851.2C1346.4 851.4 1344.6 853.2 1343.9 852.7C1343.2 852.3 1343.4 849.2 1342.9 848.3C1342.3 847.4 1341.4 847.7 1340.7 847.5C1339.9 847.2 1338.8 846.8 1338.4 846.6M1340.7 847.5q-0.6 1.9 -4.0 3.0M1343.2 865.4C1342.5 865.6 1339.9 867.2 1339.0 867.0C1338.1 866.7 1337.9 865.3 1337.8 863.8C1337.6 862.4 1338.5 859.4 1338.1 858.4C1337.7 857.3 1335.8 857.7 1335.4 857.6M1338.1 858.4q-1.1 1.7 -1.2 -4.7M1335.2 877.8C1334.5 878.1 1331.3 880.0 1330.9 879.7C1330.5 879.4 1332.1 877.2 1332.7 875.9C1333.3 874.7 1334.4 873.0 1334.5 872.3C1334.6 871.5 1333.5 871.5 1333.3 871.3M1334.5 872.3q-1.5 1.3 -5.7 1.1M1324.0 887.2C1323.5 886.9 1321.9 885.9 1320.9 885.2C1319.9 884.5 1318.4 884.1 1318.2 883.0C1318.0 881.9 1319.7 879.7 1319.7 878.5C1319.6 877.3 1318.1 876.3 1317.8 875.8M1310.6 892.4C1310.0 892.0 1307.3 891.1 1307.0 890.1C1306.6 889.2 1308.0 887.8 1308.5 886.6C1309.0 885.4 1309.9 884.1 1309.8 883.1C1309.6 882.1 1307.8 881.0 1307.4 880.6M1309.8 883.1q-1.9 0.5 4.2 -3.0M1296.5 890.5C1296.9 889.9 1298.8 888.3 1299.2 887.2C1299.6 886.1 1299.3 885.1 1298.9 884.0C1298.5 882.9 1296.6 881.9 1296.8 880.8C1297.0 879.7 1299.3 878.1 1299.8 877.5M1282.4 892.4C1282.9 892.0 1285.0 890.8 1285.5 889.9C1286.0 888.9 1285.9 887.8 1285.5 886.6C1285.1 885.4 1282.6 883.7 1283.2 882.8C1283.8 881.8 1288.3 881.2 1289.3 880.9M1268.9 887.7C1269.6 887.6 1272.8 888.1 1273.1 887.4C1273.3 886.7 1270.7 884.6 1270.3 883.6C1269.9 882.5 1269.9 881.7 1270.5 881.2C1271.1 880.7 1273.4 880.7 1274.0 880.6M1257.5 878.5C1257.2 877.9 1255.4 875.3 1255.6 874.8C1255.9 874.3 1257.6 875.1 1258.8 875.5C1260.1 875.9 1262.7 877.4 1263.1 877.1C1263.5 876.8 1261.7 874.2 1261.4 873.6M1263.1 877.1q-1.5 -1.3 5.5 -2.3M1249.4 866.1C1250.1 866.2 1252.6 867.7 1253.2 867.1C1253.8 866.5 1253.0 863.7 1253.2 862.5C1253.3 861.2 1253.1 859.4 1254.2 859.4C1255.3 859.5 1258.7 862.3 1259.6 862.9M1254.2 859.4q1.1 1.7 2.1 -3.7M1245.2 852.0C1245.3 851.5 1245.3 849.1 1245.9 849.0C1246.5 849.0 1247.9 851.5 1248.6 852.0C1249.3 852.5 1249.7 852.1 1250.2 851.9C1250.7 851.7 1251.4 851.0 1251.6 850.9M1250.2 851.9q-0.6 -1.9 8.5 -1.0M1242.9 837.5C1243.2 837.9 1244.3 839.0 1245.0 839.5C1245.7 839.9 1246.5 841.0 1247.1 840.2C1247.8 839.5 1248.2 835.6 1248.9 834.7C1249.5 833.8 1250.6 834.8 1250.9 834.8M1248.9 834.7q0.1 2.0 3.4 -7.6M1244.0 822.8C1244.2 823.5 1244.6 826.2 1245.2 826.7C1245.7 827.1 1246.6 826.3 1247.4 825.6C1248.3 824.9 1249.5 822.4 1250.2 822.4C1250.9 822.4 1251.3 825.1 1251.5 825.7M1246.9 808.3C1247.5 808.3 1249.3 807.9 1250.2 808.3C1251.1 808.6 1251.7 809.4 1252.3 810.4C1252.8 811.4 1252.8 813.4 1253.4 814.2C1254.1 815.0 1255.6 815.1 1256.1 815.2M1253.4 814.2q1.0 -1.8 -0.6 6.4M1250.9 794.1C1251.6 793.8 1254.2 792.2 1254.9 792.3C1255.6 792.3 1255.5 793.3 1255.3 794.4C1255.1 795.5 1253.5 798.0 1253.6 798.8C1253.7 799.5 1255.4 798.9 1255.8 798.9M1258.4 781.2C1258.1 781.8 1256.4 784.0 1256.5 784.7C1256.5 785.4 1257.4 785.4 1258.5 785.3C1259.7 785.2 1262.7 783.8 1263.2 784.1C1263.7 784.5 1261.8 786.8 1261.6 787.4M1263.2 784.1q-1.6 1.1 2.8 5.0M1268.3 770.4C1269.1 770.5 1272.4 770.6 1273.0 771.3C1273.5 772.1 1272.1 773.7 1271.5 775.0C1270.8 776.2 1268.2 778.3 1268.9 779.0C1269.6 779.7 1274.4 779.2 1275.5 779.2M1280.6 762.5C1280.4 762.8 1278.8 764.1 1279.1 764.6C1279.4 765.1 1281.7 765.3 1282.3 765.7C1282.9 766.2 1282.6 766.9 1282.9 767.4C1283.2 767.9 1283.9 768.7 1284.1 769.0M1282.9 767.4q-2.0 0.4 3.0 2.7"/></defs><g fill="none" stroke-linecap="round"><use href="#su6" stroke="#555" stroke-width="3" stroke-opacity=".5" filter="url(#b1)"/><use href="#su6" stroke="#2a2a2a" stroke-width="1.1" stroke-opacity=".6" filter="url(#b2)"/></g>
<defs><path id="fi6" d="M1295.6 759.8C1295.5 764.6 1295.3 783.9 1295.2 788.7M1295.7 859.0C1295.8 864.7 1296.1 887.5 1296.1 893.2"/></defs><g fill="none"><use href="#fi6" stroke="#555" stroke-width="3.2" stroke-opacity=".45" filter="url(#b1)"/><use href="#fi6" stroke="#333" stroke-width="1.2" stroke-opacity=".7" filter="url(#b2)"/></g>
<ellipse cx="1283" cy="826" rx="10" ry="17" fill="#c4c4c4" filter="url(#b1)" transform="rotate(-12 1283 826)"/><ellipse cx="1310" cy="826" rx="10" ry="17" fill="#c4c4c4" filter="url(#b1)" transform="rotate(12 1310 826)"/><path d="M1295.2 830.1C1296.9 830.1 1299.3 834.9 1300.6 837.3C1302.0 839.7 1303.5 841.5 1303.3 844.5C1303.2 847.5 1301.0 852.4 1299.7 855.4C1298.4 858.4 1296.9 862.6 1295.6 862.6C1294.2 862.6 1292.9 858.4 1291.6 855.4C1290.3 852.4 1288.1 847.5 1288.0 844.5C1287.8 841.5 1289.5 839.7 1290.7 837.3C1291.9 834.9 1293.6 830.1 1295.2 830.1Z" fill="#4a4a4a" filter="url(#b1)"/><path d="M1272.7 843.6C1274.0 843.0 1277.5 844.7 1278.1 846.3C1278.7 848.0 1277.3 852.1 1276.3 853.6C1275.2 855.1 1272.8 856.0 1271.8 855.4C1270.7 854.8 1269.8 851.9 1270.0 849.9C1270.1 848.0 1271.3 844.2 1272.7 843.6Z" fill="#5a5a5a" filter="url(#b2)"/><path d="M1313.2 841.8C1314.3 841.7 1317.6 844.7 1318.6 846.3C1319.7 848.0 1320.0 850.9 1319.5 851.8C1319.1 852.6 1317.1 852.1 1315.9 851.4C1314.7 850.6 1312.8 848.8 1312.3 847.2C1311.9 845.7 1312.2 842.0 1313.2 841.8Z" fill="#5a5a5a" filter="url(#b2)"/><ellipse cx="1296" cy="867" rx="20" ry="15" fill="none" stroke="#8a8a8a" stroke-width="1.2" filter="url(#b2)"/><ellipse cx="1287" cy="866" rx="8" ry="8" fill="none" stroke="#9a9a9a" stroke-width="1" filter="url(#b2)"/><ellipse cx="1306" cy="866" rx="8" ry="8" fill="none" stroke="#9a9a9a" stroke-width="1" filter="url(#b2)"/><path d="M1292.9 794.1C1293.5 793.4 1294.7 797.3 1295.6 797.3C1296.5 797.3 1297.6 793.4 1298.3 794.1C1299.0 794.7 1299.8 798.4 1299.7 801.3C1299.7 804.1 1298.6 809.0 1297.9 811.2C1297.2 813.4 1296.3 814.3 1295.6 814.3C1294.8 814.3 1294.1 813.4 1293.4 811.2C1292.7 809.0 1291.7 804.1 1291.6 801.3C1291.5 798.4 1292.2 794.7 1292.9 794.1Z" fill="#333" filter="url(#b0)"/><path d="M1280.2 791.7C1281.3 791.1 1285.1 792.4 1287.1 793.7C1289.1 795.0 1291.2 796.6 1292.5 799.5C1293.9 802.4 1295.1 808.6 1295.2 811.2C1295.3 813.8 1294.1 814.8 1292.9 814.8C1291.7 814.8 1289.6 812.8 1288.0 811.2C1286.4 809.5 1284.7 807.1 1283.5 804.9C1282.3 802.6 1281.3 799.9 1280.8 797.7C1280.2 795.5 1279.2 792.4 1280.2 791.7Z" fill="#E8311F" filter="url(#b0)"/><path d="M1310.5 791.7C1309.5 791.1 1305.7 792.4 1303.7 793.7C1301.6 795.0 1299.5 796.6 1298.3 799.5C1297.1 802.4 1296.4 808.8 1296.5 811.2C1296.6 813.6 1297.9 814.1 1299.0 813.9C1300.1 813.8 1301.9 811.9 1303.3 810.3C1304.7 808.6 1306.2 806.1 1307.3 804.0C1308.4 801.9 1309.4 799.7 1310.0 797.7C1310.5 795.6 1311.6 792.4 1310.5 791.7Z" fill="#E8311F" filter="url(#b0)"/>
</g>
<path class="ax" d="M83.1 209.2V609.7M83.1 209.7h-3.1M83.1 289.6h-3.1M83.1 369.5h-3.1M83.1 449.4h-3.1M83.1 529.3h-3.1M83.1 609.2h-3.1"/>
<text class="tk" transform="translate(77.3 216.0) scale(1.06 1)">0.6</text>
<text class="tk" transform="translate(77.3 295.9) scale(1.06 1)">0.4</text>
<text class="tk" transform="translate(77.3 375.8) scale(1.06 1)">0.2</text>
<text class="tk" transform="translate(77.3 455.7) scale(1.06 1)">0.0</text>
<text class="tk" transform="translate(77.3 535.6) scale(1.06 1)">-0.2</text>
<text class="tk" transform="translate(77.3 615.5) scale(1.06 1)">-0.4</text>
<text class="yl" transform="translate(38.5 408.7) rotate(-90)">Percent Signal Change</text>
<path class="ax" d="M684.3 209.1V609.7M684.3 209.6h-3.1M684.3 289.5h-3.1M684.3 369.4h-3.1M684.3 449.3h-3.1M684.3 529.3h-3.1M684.3 609.2h-3.1"/>
<text class="tk" transform="translate(678.5 215.9) scale(1.06 1)">0.8</text>
<text class="tk" transform="translate(678.5 295.8) scale(1.06 1)">0.6</text>
<text class="tk" transform="translate(678.5 375.7) scale(1.06 1)">0.4</text>
<text class="tk" transform="translate(678.5 455.6) scale(1.06 1)">0.2</text>
<text class="tk" transform="translate(678.5 535.6) scale(1.06 1)">0.0</text>
<text class="tk" transform="translate(678.5 615.5) scale(1.06 1)">-0.2</text>
<text class="yl" transform="translate(639.7 408.7) rotate(-90)">Percent Signal Change</text>
<path class="ax" d="M1284.8 209.2V609.7M1284.8 209.7h-3.1M1284.8 289.6h-3.1M1284.8 369.5h-3.1M1284.8 449.4h-3.1M1284.8 529.3h-3.1M1284.8 609.2h-3.1"/>
<text class="tk" transform="translate(1279.0 216.0) scale(1.06 1)">0.6</text>
<text class="tk" transform="translate(1279.0 295.9) scale(1.06 1)">0.4</text>
<text class="tk" transform="translate(1279.0 375.8) scale(1.06 1)">0.2</text>
<text class="tk" transform="translate(1279.0 455.7) scale(1.06 1)">0.0</text>
<text class="tk" transform="translate(1279.0 535.6) scale(1.06 1)">-0.2</text>
<text class="tk" transform="translate(1279.0 615.5) scale(1.06 1)">-0.4</text>
<text class="yl" transform="translate(1240.2 408.7) rotate(-90)">Percent Signal Change</text>
<path class="ax" d="M77.8 917.5V1317.7M77.8 918.0h-3.1M77.8 997.8h-3.1M77.8 1077.7h-3.1M77.8 1157.5h-3.1M77.8 1237.4h-3.1M77.8 1317.2h-3.1"/>
<text class="tk" transform="translate(72.0 924.3) scale(1.06 1)">0.6</text>
<text class="tk" transform="translate(72.0 1004.1) scale(1.06 1)">0.4</text>
<text class="tk" transform="translate(72.0 1084.0) scale(1.06 1)">0.2</text>
<text class="tk" transform="translate(72.0 1163.8) scale(1.06 1)">0.0</text>
<text class="tk" transform="translate(72.0 1243.7) scale(1.06 1)">-0.2</text>
<text class="tk" transform="translate(72.0 1323.5) scale(1.06 1)">-0.4</text>
<text class="yl" transform="translate(33.2 1116.7) rotate(-90)">Percent Signal Change</text>
<path class="ax" d="M678.6 917.5V1317.7M678.6 918.0h-3.1M678.6 1017.8h-3.1M678.6 1117.6h-3.1M678.6 1217.4h-3.1M678.6 1317.2h-3.1"/>
<text class="tk" transform="translate(672.8 924.3) scale(1.06 1)">0.4</text>
<text class="tk" transform="translate(672.8 1024.1) scale(1.06 1)">0.2</text>
<text class="tk" transform="translate(672.8 1123.9) scale(1.06 1)">0.0</text>
<text class="tk" transform="translate(672.8 1223.7) scale(1.06 1)">-0.2</text>
<text class="tk" transform="translate(672.8 1323.5) scale(1.06 1)">-0.4</text>
<text class="yl" transform="translate(634.0 1116.7) rotate(-90)">Percent Signal Change</text>
<path class="ax" d="M1279.1 917.5V1317.7M1279.1 918.0h-3.1M1279.1 1051.1h-3.1M1279.1 1184.1h-3.1M1279.1 1317.2h-3.1"/>
<text class="tk" transform="translate(1273.3 924.3) scale(1.06 1)">0.3</text>
<text class="tk" transform="translate(1273.3 1057.4) scale(1.06 1)">0.1</text>
<text class="tk" transform="translate(1273.3 1190.4) scale(1.06 1)">-0.1</text>
<text class="tk" transform="translate(1273.3 1323.5) scale(1.06 1)">-0.3</text>
<text class="yl" transform="translate(1234.5 1116.7) rotate(-90)">Percent Signal Change</text>
<path d="M133.0 310.7C131.9 311.8 128.7 315.0 126.7 317.4C124.8 319.8 123.3 321.5 121.3 324.9C119.2 328.2 116.0 333.2 114.5 337.4C113.1 341.5 112.8 345.7 112.5 349.8C112.3 354.0 112.7 358.2 113.0 362.3C113.3 366.5 113.8 370.6 114.3 374.8C114.7 379.0 115.2 383.1 115.8 387.3C116.3 391.4 116.8 395.6 117.5 399.8C118.2 403.9 119.1 408.1 120.0 412.2C121.0 416.4 122.1 420.6 123.3 424.7C124.4 428.9 125.6 433.0 126.7 437.2C127.9 441.4 128.8 445.6 130.0 449.7C131.2 453.7 133.1 459.7 133.7 461.7L178.7 461.7C179.3 459.7 181.2 453.7 182.4 449.7C183.6 445.6 184.5 441.4 185.7 437.2C186.8 433.0 188.0 428.9 189.1 424.7C190.3 420.6 191.4 416.4 192.4 412.2C193.3 408.1 194.2 403.9 194.9 399.8C195.6 395.6 196.1 391.4 196.6 387.3C197.2 383.1 197.7 379.0 198.1 374.8C198.6 370.6 199.1 366.5 199.4 362.3C199.7 358.2 200.1 354.0 199.9 349.8C199.6 345.7 199.3 341.5 197.9 337.4C196.4 333.2 193.2 328.2 191.1 324.9C189.1 321.5 187.6 319.8 185.7 317.4C183.7 315.0 180.5 311.8 179.4 310.7Z" fill="#F25F5C" stroke="#3d3d3d" stroke-opacity=".8" stroke-width="1.15"/>
<line x1="156.2" y1="310.6" x2="156.2" y2="461.6" class="wk"/>
<rect x="149.8" y="351.1" width="12.8" height="62.6" fill="#F25F5C" class="bx"/>
<line x1="149.8" y1="383.3" x2="162.6" y2="383.3" class="md"/>
<path d="M265.5 337.1C264.2 339.2 260.8 345.6 257.7 349.8C254.7 354.0 251.2 358.2 247.2 362.3C243.3 366.5 238.0 370.6 234.3 374.8C230.5 379.0 226.8 383.1 224.8 387.3C222.8 391.4 222.1 395.6 222.3 399.8C222.5 403.9 224.3 408.1 226.0 412.2C227.8 416.4 230.5 420.6 232.8 424.7C235.1 428.9 237.4 433.0 239.8 437.2C242.1 441.4 244.5 445.5 246.8 449.7C249.0 453.8 251.4 458.0 253.5 462.2C255.6 466.3 257.5 470.5 259.2 474.6C261.0 478.8 262.7 483.0 264.0 487.1C265.3 491.3 266.3 495.4 267.0 499.6C267.7 503.8 268.0 507.9 268.2 512.1C268.4 516.2 268.4 520.4 268.2 524.5C268.0 528.7 267.4 533.3 267.2 537.0C267.1 540.8 267.2 545.3 267.2 547.0L288.2 547.0C288.2 545.3 288.3 540.8 288.2 537.0C288.0 533.3 287.4 528.7 287.2 524.5C287.0 520.4 287.0 516.2 287.2 512.1C287.4 507.9 287.7 503.8 288.4 499.6C289.1 495.4 290.1 491.3 291.4 487.1C292.7 483.0 294.4 478.8 296.2 474.6C297.9 470.5 299.8 466.3 301.9 462.2C304.0 458.0 306.4 453.8 308.6 449.7C310.9 445.5 313.3 441.4 315.6 437.2C318.0 433.0 320.3 428.9 322.6 424.7C324.9 420.6 327.6 416.4 329.4 412.2C331.1 408.1 332.9 403.9 333.1 399.8C333.3 395.6 332.6 391.4 330.6 387.3C328.6 383.1 324.9 379.0 321.1 374.8C317.4 370.6 312.1 366.5 308.2 362.3C304.2 358.2 300.7 354.0 297.7 349.8C294.6 345.6 291.2 339.2 289.9 337.1Z" fill="#1BB3B7" stroke="#3d3d3d" stroke-opacity=".8" stroke-width="1.15"/>
<line x1="277.7" y1="337.1" x2="277.7" y2="540.0" class="wk"/>
<rect x="271.3" y="391.0" width="12.8" height="58.9" fill="#1BB3B7" class="bx"/>
<line x1="271.3" y1="415.2" x2="284.1" y2="415.2" class="md"/>
<circle cx="277.7" cy="547.0" r="1.9" fill="#222" fill-opacity=".38"/>
<path d="M383.3 260.5C382.0 262.9 378.2 270.5 375.8 275.0C373.4 279.5 371.3 283.3 369.0 287.4C366.8 291.6 364.2 295.8 362.6 299.9C360.9 304.1 359.8 308.2 359.1 312.4C358.3 316.6 358.0 320.7 358.1 324.9C358.2 329.0 359.0 333.2 359.6 337.4C360.1 341.5 360.8 345.7 361.3 349.8C361.9 354.0 362.3 358.2 362.8 362.3C363.4 366.5 363.8 370.6 364.6 374.8C365.3 379.0 366.3 383.1 367.6 387.3C368.8 391.4 370.5 395.6 372.0 399.8C373.5 403.9 375.1 408.1 376.5 412.2C378.0 416.4 379.3 419.8 380.8 424.7C382.2 429.6 384.5 438.9 385.3 441.7L413.7 441.7C414.5 438.9 416.8 429.6 418.2 424.7C419.7 419.8 421.0 416.4 422.5 412.2C423.9 408.1 425.5 403.9 427.0 399.8C428.5 395.6 430.2 391.4 431.4 387.3C432.7 383.1 433.7 379.0 434.4 374.8C435.2 370.6 435.6 366.5 436.2 362.3C436.7 358.2 437.1 354.0 437.7 349.8C438.2 345.7 438.9 341.5 439.4 337.4C440.0 333.2 440.8 329.0 440.9 324.9C441.0 320.7 440.7 316.6 439.9 312.4C439.2 308.2 438.1 304.1 436.4 299.9C434.8 295.8 432.2 291.6 430.0 287.4C427.7 283.3 425.6 279.5 423.2 275.0C420.8 270.5 417.0 262.9 415.7 260.5Z" fill="#F25F5C" stroke="#3d3d3d" stroke-opacity=".8" stroke-width="1.15"/>
<line x1="399.5" y1="260.5" x2="399.5" y2="441.7" class="wk"/>
<rect x="393.1" y="312.4" width="12.8" height="71.4" fill="#F25F5C" class="bx"/>
<line x1="393.1" y1="339.1" x2="405.9" y2="339.1" class="md"/>
<path d="M510.1 289.9C509.1 291.6 506.6 296.2 504.3 299.9C502.0 303.7 498.9 308.2 496.3 312.4C493.8 316.6 491.1 320.7 488.9 324.9C486.6 329.0 484.5 333.2 483.1 337.4C481.7 341.5 481.2 345.7 480.6 349.8C480.1 354.0 480.7 358.2 479.9 362.3C479.0 366.5 477.4 370.6 475.6 374.8C473.9 379.0 470.8 383.9 469.4 387.3C468.0 390.6 467.4 391.9 467.4 394.8C467.4 397.7 468.2 401.8 469.4 404.7C470.6 407.7 471.5 408.9 474.4 412.2C477.3 415.6 482.7 420.6 486.9 424.7C491.0 428.9 495.8 433.0 499.3 437.2C502.9 441.4 506.1 445.5 508.1 449.7C510.1 453.8 510.9 458.0 511.3 462.2C511.7 466.3 510.7 471.2 510.6 474.6C510.4 478.0 510.6 481.3 510.6 482.6L533.0 482.6C533.0 481.3 533.2 478.0 533.0 474.6C532.9 471.2 531.9 466.3 532.3 462.2C532.7 458.0 533.5 453.8 535.5 449.7C537.5 445.5 540.7 441.4 544.3 437.2C547.8 433.0 552.6 428.9 556.7 424.7C560.9 420.6 566.3 415.6 569.2 412.2C572.1 408.9 573.0 407.7 574.2 404.7C575.4 401.8 576.2 397.7 576.2 394.8C576.2 391.9 575.6 390.6 574.2 387.3C572.8 383.9 569.7 379.0 568.0 374.8C566.2 370.6 564.6 366.5 563.7 362.3C562.9 358.2 563.5 354.0 563.0 349.8C562.4 345.7 561.9 341.5 560.5 337.4C559.1 333.2 557.0 329.0 554.7 324.9C552.5 320.7 549.8 316.6 547.3 312.4C544.7 308.2 541.6 303.7 539.3 299.9C537.0 296.2 534.5 291.6 533.5 289.9Z" fill="#1BB3B7" stroke="#3d3d3d" stroke-opacity=".8" stroke-width="1.15"/>
<line x1="521.8" y1="289.9" x2="521.8" y2="482.6" class="wk"/>
<rect x="515.6" y="347.3" width="12.4" height="53.9" fill="#1BB3B7" class="bx"/>
<line x1="515.6" y1="389.8" x2="528.0" y2="389.8" class="md"/>
<path d="M750.6 288.5C750.7 290.8 750.9 297.9 751.3 302.2C751.8 306.6 753.1 310.6 753.3 314.7C753.6 318.9 753.2 323.0 752.8 327.2C752.4 331.4 751.2 335.0 750.8 339.7C750.4 344.3 750.7 350.3 750.6 355.0C750.4 359.6 750.6 363.3 749.8 367.4C749.1 371.6 748.4 375.8 746.1 379.9C743.8 384.1 739.8 388.2 736.1 392.4C732.3 396.6 727.3 400.7 723.6 404.9C719.9 409.0 716.3 413.2 713.6 417.4C710.9 421.5 708.6 426.1 707.4 429.8C706.1 433.6 706.0 436.5 706.1 439.8C706.3 443.1 707.2 446.5 708.1 449.8C709.1 453.1 710.5 456.5 711.9 459.8C713.3 463.1 715.0 466.4 716.6 469.8C718.3 473.1 720.1 476.4 721.9 479.8C723.6 483.1 725.4 486.4 727.3 489.7C729.3 493.1 731.4 496.0 733.6 499.7C735.8 503.5 739.4 510.1 740.6 512.2L773.0 512.2C774.2 510.1 777.8 503.5 780.0 499.7C782.2 496.0 784.3 493.1 786.3 489.7C788.2 486.4 790.0 483.1 791.7 479.8C793.5 476.4 795.3 473.1 797.0 469.8C798.6 466.4 800.3 463.1 801.7 459.8C803.1 456.5 804.5 453.1 805.5 449.8C806.4 446.5 807.3 443.1 807.5 439.8C807.6 436.5 807.5 433.6 806.2 429.8C805.0 426.1 802.7 421.5 800.0 417.4C797.3 413.2 793.7 409.0 790.0 404.9C786.3 400.7 781.3 396.6 777.5 392.4C773.8 388.2 769.8 384.1 767.5 379.9C765.2 375.8 764.5 371.6 763.8 367.4C763.0 363.3 763.2 359.6 763.0 355.0C762.9 350.3 763.2 344.3 762.8 339.7C762.4 335.0 761.2 331.4 760.8 327.2C760.4 323.0 760.0 318.9 760.3 314.7C760.5 310.6 761.8 306.6 762.3 302.2C762.7 297.9 762.9 290.8 763.0 288.5Z" fill="#F25F5C" stroke="#3d3d3d" stroke-opacity=".8" stroke-width="1.15"/>
<line x1="756.8" y1="351.2" x2="756.8" y2="512.2" class="wk"/>
<rect x="750.6" y="421.1" width="12.4" height="48.2" fill="#F25F5C" class="bx"/>
<line x1="750.6" y1="439.8" x2="763.0" y2="439.8" class="md"/>
<path d="M866.9 387.9C865.3 389.9 860.6 395.8 857.4 399.9C854.1 404.0 850.4 408.2 847.4 412.4C844.4 416.5 841.4 420.7 839.4 424.8C837.5 429.0 836.4 433.6 835.7 437.3C834.9 441.1 834.8 444.0 834.9 447.3C835.0 450.6 835.3 453.5 836.2 457.3C837.0 461.0 838.6 465.6 839.9 469.8C841.2 473.9 842.8 478.1 844.2 482.3C845.5 486.4 846.6 490.6 847.9 494.7C849.2 498.9 850.6 503.0 851.9 507.2C853.2 511.4 854.4 515.5 855.6 519.7C856.9 523.8 858.2 528.0 859.4 532.2C860.6 536.3 861.9 541.2 862.9 544.6C863.9 548.1 865.0 551.5 865.4 552.9L891.8 552.9C892.2 551.5 893.3 548.1 894.3 544.6C895.3 541.2 896.6 536.3 897.8 532.2C899.0 528.0 900.3 523.8 901.6 519.7C902.8 515.5 904.0 511.4 905.3 507.2C906.6 503.0 908.0 498.9 909.3 494.7C910.6 490.6 911.7 486.4 913.0 482.3C914.4 478.1 916.0 473.9 917.3 469.8C918.6 465.6 920.2 461.0 921.0 457.3C921.9 453.5 922.2 450.6 922.3 447.3C922.4 444.0 922.3 441.1 921.5 437.3C920.8 433.6 919.7 429.0 917.8 424.8C915.8 420.7 912.8 416.5 909.8 412.4C906.8 408.2 903.1 404.0 899.8 399.9C896.6 395.8 891.9 389.9 890.3 387.9Z" fill="#1BB3B7" stroke="#3d3d3d" stroke-opacity=".8" stroke-width="1.15"/>
<line x1="878.6" y1="387.9" x2="878.6" y2="552.9" class="wk"/>
<rect x="872.3" y="435.1" width="12.6" height="63.6" fill="#1BB3B7" class="bx"/>
<line x1="872.3" y1="459.0" x2="884.9" y2="459.0" class="md"/>
<path d="M994.8 234.1C994.9 235.9 995.0 241.0 995.5 244.8C996.0 248.7 997.3 253.1 998.0 257.3C998.7 261.5 999.2 265.6 999.5 269.8C999.8 273.9 1000.0 278.1 1000.0 282.3C1000.0 286.4 1000.0 290.6 999.8 294.7C999.5 298.9 999.1 303.1 998.5 307.2C997.9 311.4 996.9 315.9 996.3 319.7C995.6 323.5 995.1 326.2 994.5 330.0C993.9 333.8 993.8 338.3 992.5 342.5C991.3 346.6 989.8 350.8 987.0 355.0C984.2 359.1 979.5 363.3 975.8 367.4C972.0 371.6 967.9 375.8 964.6 379.9C961.2 384.1 958.3 388.2 955.8 392.4C953.3 396.6 951.2 400.7 949.6 404.9C947.9 409.0 946.6 414.0 945.8 417.4C945.1 420.7 944.9 421.9 945.1 424.8C945.3 427.8 945.7 431.5 947.1 434.8C948.5 438.2 950.4 441.5 953.3 444.8C956.2 448.1 960.6 451.5 964.6 454.8C968.5 458.1 973.5 461.5 977.0 464.8C980.6 468.1 983.4 471.1 985.8 474.8C988.2 478.4 990.6 484.5 991.5 486.5L1009.5 486.5C1010.4 484.5 1012.8 478.4 1015.2 474.8C1017.6 471.1 1020.4 468.1 1024.0 464.8C1027.5 461.5 1032.5 458.1 1036.4 454.8C1040.4 451.5 1044.8 448.1 1047.7 444.8C1050.6 441.5 1052.5 438.2 1053.9 434.8C1055.3 431.5 1055.7 427.8 1055.9 424.8C1056.1 421.9 1055.9 420.7 1055.2 417.4C1054.4 414.0 1053.1 409.0 1051.4 404.9C1049.8 400.7 1047.7 396.6 1045.2 392.4C1042.7 388.2 1039.8 384.1 1036.4 379.9C1033.1 375.8 1029.0 371.6 1025.2 367.4C1021.5 363.3 1016.8 359.1 1014.0 355.0C1011.2 350.8 1009.7 346.6 1008.5 342.5C1007.2 338.3 1007.1 333.8 1006.5 330.0C1005.9 326.2 1005.4 323.5 1004.7 319.7C1004.1 315.9 1003.1 311.4 1002.5 307.2C1001.9 303.1 1001.5 298.9 1001.2 294.7C1001.0 290.6 1001.0 286.4 1001.0 282.3C1001.0 278.1 1001.2 273.9 1001.5 269.8C1001.8 265.6 1002.3 261.5 1003.0 257.3C1003.7 253.1 1005.0 248.7 1005.5 244.8C1006.0 241.0 1006.1 235.9 1006.2 234.1Z" fill="#F25F5C" stroke="#3d3d3d" stroke-opacity=".8" stroke-width="1.15"/>
<line x1="1000.5" y1="333.0" x2="1000.5" y2="486.5" class="wk"/>
<rect x="994.2" y="387.9" width="12.6" height="48.9" fill="#F25F5C" class="bx"/>
<line x1="994.2" y1="416.6" x2="1006.8" y2="416.6" class="md"/>
<path d="M1098.8 358.7C1098.3 360.2 1096.8 363.9 1095.6 367.4C1094.4 371.0 1093.5 376.6 1091.8 379.9C1090.2 383.2 1088.5 384.5 1085.6 387.4C1082.7 390.3 1077.1 394.1 1074.4 397.4C1071.7 400.7 1070.4 404.0 1069.4 407.4C1068.3 410.7 1068.1 414.0 1068.1 417.4C1068.1 420.7 1068.3 424.0 1069.4 427.3C1070.4 430.7 1072.1 434.0 1074.4 437.3C1076.7 440.7 1080.0 444.0 1083.1 447.3C1086.2 450.6 1090.2 454.0 1093.1 457.3C1096.0 460.6 1098.5 463.5 1100.6 467.3C1102.7 471.0 1103.9 475.5 1105.6 479.8C1107.2 484.0 1109.7 490.6 1110.6 492.7L1134.0 492.7C1134.9 490.6 1137.4 484.0 1139.0 479.8C1140.7 475.5 1141.9 471.0 1144.0 467.3C1146.1 463.5 1148.6 460.6 1151.5 457.3C1154.4 454.0 1158.4 450.6 1161.5 447.3C1164.6 444.0 1167.9 440.7 1170.2 437.3C1172.5 434.0 1174.2 430.7 1175.2 427.3C1176.3 424.0 1176.5 420.7 1176.5 417.4C1176.5 414.0 1176.3 410.7 1175.2 407.4C1174.2 404.0 1172.9 400.7 1170.2 397.4C1167.5 394.1 1161.9 390.3 1159.0 387.4C1156.1 384.5 1154.4 383.2 1152.8 379.9C1151.1 376.6 1150.2 371.0 1149.0 367.4C1147.8 363.9 1146.3 360.2 1145.8 358.7Z" fill="#1BB3B7" stroke="#3d3d3d" stroke-opacity=".8" stroke-width="1.15"/>
<line x1="1122.3" y1="358.7" x2="1122.3" y2="492.7" class="wk"/>
<rect x="1116.1" y="398.6" width="12.4" height="42.5" fill="#1BB3B7" class="bx"/>
<line x1="1116.1" y1="419.1" x2="1128.5" y2="419.1" class="md"/>
<path d="M1354.2 308.0C1354.1 310.0 1354.0 316.2 1353.7 319.8C1353.4 323.4 1353.1 326.0 1352.2 329.8C1351.3 333.5 1350.0 338.1 1348.5 342.2C1346.9 346.4 1344.5 350.6 1342.7 354.7C1340.9 358.9 1338.8 363.0 1337.7 367.2C1336.7 371.4 1336.7 375.5 1336.2 379.7C1335.8 383.8 1335.9 388.0 1335.2 392.2C1334.6 396.3 1333.6 400.5 1332.2 404.6C1330.9 408.8 1328.6 413.0 1327.2 417.1C1325.9 421.3 1324.8 426.3 1324.3 429.6C1323.7 432.9 1323.7 434.6 1324.0 437.1C1324.3 439.6 1325.0 442.1 1326.0 444.6C1327.0 447.1 1328.6 449.3 1330.2 452.1C1331.9 454.8 1335.0 459.3 1336.0 460.8L1379.4 460.8C1380.4 459.3 1383.5 454.8 1385.2 452.1C1386.8 449.3 1388.4 447.1 1389.4 444.6C1390.4 442.1 1391.1 439.6 1391.4 437.1C1391.7 434.6 1391.7 432.9 1391.1 429.6C1390.6 426.3 1389.5 421.3 1388.2 417.1C1386.8 413.0 1384.5 408.8 1383.2 404.6C1381.8 400.5 1380.8 396.3 1380.2 392.2C1379.5 388.0 1379.6 383.8 1379.2 379.7C1378.7 375.5 1378.7 371.4 1377.7 367.2C1376.6 363.0 1374.5 358.9 1372.7 354.7C1370.9 350.6 1368.5 346.4 1366.9 342.2C1365.4 338.1 1364.1 333.5 1363.2 329.8C1362.3 326.0 1362.0 323.4 1361.7 319.8C1361.4 316.2 1361.3 310.0 1361.2 308.0Z" fill="#F25F5C" stroke="#3d3d3d" stroke-opacity=".8" stroke-width="1.15"/>
<line x1="1357.7" y1="308.0" x2="1357.7" y2="460.8" class="wk"/>
<rect x="1351.6" y="375.9" width="12.2" height="60.4" fill="#F25F5C" class="bx"/>
<line x1="1351.6" y1="425.3" x2="1363.8" y2="425.3" class="md"/>
<path d="M1474.7 347.4C1474.6 349.5 1474.8 355.7 1474.2 359.9C1473.5 364.1 1472.1 368.2 1470.9 372.4C1469.7 376.5 1468.4 380.7 1466.9 384.9C1465.5 389.0 1463.7 393.2 1462.2 397.3C1460.6 401.5 1459.4 405.7 1457.7 409.8C1456.0 414.0 1454.0 418.1 1451.9 422.3C1449.9 426.5 1447.0 431.0 1445.2 434.8C1443.5 438.5 1442.2 442.3 1441.5 444.8C1440.8 447.3 1440.6 447.7 1441.0 449.8C1441.3 451.8 1441.7 454.3 1443.5 457.2C1445.2 460.2 1448.5 463.9 1451.4 467.2C1454.4 470.6 1458.7 473.9 1461.4 477.2C1464.1 480.5 1466.0 483.4 1467.7 487.2C1469.3 490.9 1470.4 495.5 1471.4 499.7C1472.5 503.8 1473.2 508.0 1473.9 512.2C1474.6 516.3 1475.3 520.9 1475.7 524.6C1476.0 528.4 1476.3 531.3 1475.9 534.6C1475.5 537.9 1474.0 541.3 1473.4 544.6C1472.8 547.9 1472.3 551.6 1472.2 554.6C1472.0 557.6 1472.6 561.2 1472.7 562.6L1486.1 562.6C1486.2 561.2 1486.8 557.6 1486.6 554.6C1486.5 551.6 1486.0 547.9 1485.4 544.6C1484.8 541.3 1483.3 537.9 1482.9 534.6C1482.5 531.3 1482.8 528.4 1483.1 524.6C1483.5 520.9 1484.2 516.3 1484.9 512.2C1485.6 508.0 1486.3 503.8 1487.4 499.7C1488.4 495.5 1489.5 490.9 1491.1 487.2C1492.8 483.4 1494.7 480.5 1497.4 477.2C1500.1 473.9 1504.4 470.6 1507.4 467.2C1510.3 463.9 1513.6 460.2 1515.3 457.2C1517.1 454.3 1517.5 451.8 1517.8 449.8C1518.2 447.7 1518.0 447.3 1517.3 444.8C1516.6 442.3 1515.3 438.5 1513.6 434.8C1511.8 431.0 1508.9 426.5 1506.9 422.3C1504.8 418.1 1502.8 414.0 1501.1 409.8C1499.4 405.7 1498.2 401.5 1496.6 397.3C1495.1 393.2 1493.3 389.0 1491.9 384.9C1490.4 380.7 1489.1 376.5 1487.9 372.4C1486.7 368.2 1485.3 364.1 1484.6 359.9C1484.0 355.7 1484.2 349.5 1484.1 347.4Z" fill="#1BB3B7" stroke="#3d3d3d" stroke-opacity=".8" stroke-width="1.15"/>
<line x1="1479.4" y1="378.1" x2="1479.4" y2="508.4" class="wk"/>
<rect x="1473.2" y="418.0" width="12.4" height="40.0" fill="#1BB3B7" class="bx"/>
<line x1="1473.2" y1="446.8" x2="1485.6" y2="446.8" class="md"/>
<circle cx="1479.4" cy="349.0" r="1.9" fill="#222" fill-opacity=".38"/>
<circle cx="1479.4" cy="547.8" r="1.9" fill="#222" fill-opacity=".38"/>
<circle cx="1479.4" cy="561.5" r="1.9" fill="#222" fill-opacity=".38"/>
<path d="M1593.7 289.8C1593.1 291.5 1591.2 296.5 1590.0 299.8C1588.7 303.1 1587.3 306.5 1586.2 309.8C1585.2 313.1 1584.4 316.4 1583.7 319.8C1583.1 323.1 1582.7 326.0 1582.5 329.8C1582.2 333.5 1582.4 338.1 1582.2 342.2C1582.0 346.4 1582.1 350.6 1581.2 354.7C1580.3 358.9 1578.4 363.0 1576.7 367.2C1575.1 371.4 1572.8 375.9 1571.2 379.7C1569.7 383.4 1568.0 386.7 1567.3 389.7C1566.5 392.6 1566.4 394.6 1566.5 397.1C1566.6 399.6 1566.8 401.7 1568.0 404.6C1569.2 407.5 1571.9 411.7 1573.7 414.6C1575.6 417.5 1577.3 419.6 1579.2 422.1C1581.2 424.6 1584.4 428.3 1585.5 429.6L1616.9 429.6C1618.0 428.3 1621.2 424.6 1623.2 422.1C1625.1 419.6 1626.8 417.5 1628.7 414.6C1630.5 411.7 1633.2 407.5 1634.4 404.6C1635.6 401.7 1635.8 399.6 1635.9 397.1C1636.0 394.6 1635.9 392.6 1635.1 389.7C1634.4 386.7 1632.7 383.4 1631.2 379.7C1629.6 375.9 1627.3 371.4 1625.7 367.2C1624.0 363.0 1622.1 358.9 1621.2 354.7C1620.3 350.6 1620.4 346.4 1620.2 342.2C1620.0 338.1 1620.2 333.5 1619.9 329.8C1619.7 326.0 1619.3 323.1 1618.7 319.8C1618.0 316.4 1617.2 313.1 1616.2 309.8C1615.1 306.5 1613.7 303.1 1612.4 299.8C1611.2 296.5 1609.3 291.5 1608.7 289.8Z" fill="#F25F5C" stroke="#3d3d3d" stroke-opacity=".8" stroke-width="1.15"/>
<line x1="1601.2" y1="289.8" x2="1601.2" y2="429.7" class="wk"/>
<rect x="1595.0" y="336.7" width="12.4" height="67.2" fill="#F25F5C" class="bx"/>
<line x1="1595.0" y1="383.9" x2="1607.4" y2="383.9" class="md"/>
<path d="M1712.2 340.4C1712.3 342.0 1713.1 347.1 1712.7 349.9C1712.3 352.7 1711.6 354.9 1709.7 357.4C1707.7 359.9 1704.3 362.4 1700.9 364.9C1697.6 367.4 1693.4 369.9 1689.7 372.4C1686.0 374.9 1681.6 377.4 1678.5 379.9C1675.4 382.4 1672.8 384.9 1671.0 387.4C1669.2 389.9 1667.5 392.3 1667.7 394.8C1667.9 397.3 1669.8 399.8 1672.2 402.3C1674.6 404.8 1678.7 407.3 1682.2 409.8C1685.8 412.3 1689.9 414.8 1693.4 417.3C1697.0 419.8 1700.9 422.3 1703.4 424.8C1706.0 427.3 1707.8 429.8 1708.9 432.3C1710.1 434.8 1710.2 437.3 1710.4 439.8C1710.7 442.3 1709.9 444.8 1710.4 447.3C1710.9 449.8 1712.2 452.3 1713.4 454.7C1714.7 457.2 1716.9 459.7 1717.9 462.2C1718.9 464.7 1719.7 467.2 1719.7 469.7C1719.7 472.2 1718.2 474.8 1717.9 477.2C1717.6 479.6 1717.7 483.0 1717.7 484.2L1728.1 484.2C1728.1 483.0 1728.2 479.6 1727.9 477.2C1727.6 474.8 1726.1 472.2 1726.1 469.7C1726.1 467.2 1726.9 464.7 1727.9 462.2C1728.9 459.7 1731.1 457.2 1732.4 454.7C1733.6 452.3 1734.9 449.8 1735.4 447.3C1735.9 444.8 1735.1 442.3 1735.4 439.8C1735.6 437.3 1735.7 434.8 1736.9 432.3C1738.0 429.8 1739.8 427.3 1742.4 424.8C1744.9 422.3 1748.8 419.8 1752.4 417.3C1755.9 414.8 1760.0 412.3 1763.6 409.8C1767.1 407.3 1771.2 404.8 1773.6 402.3C1776.0 399.8 1777.9 397.3 1778.1 394.8C1778.3 392.3 1776.6 389.9 1774.8 387.4C1773.0 384.9 1770.4 382.4 1767.3 379.9C1764.2 377.4 1759.8 374.9 1756.1 372.4C1752.4 369.9 1748.2 367.4 1744.9 364.9C1741.5 362.4 1738.1 359.9 1736.1 357.4C1734.2 354.9 1733.5 352.7 1733.1 349.9C1732.7 347.1 1733.5 342.0 1733.6 340.4Z" fill="#1BB3B7" stroke="#3d3d3d" stroke-opacity=".8" stroke-width="1.15"/>
<line x1="1722.9" y1="340.4" x2="1722.9" y2="449.8" class="wk"/>
<rect x="1716.6" y="384.1" width="12.6" height="28.2" fill="#1BB3B7" class="bx"/>
<line x1="1716.6" y1="396.6" x2="1729.2" y2="396.6" class="md"/>
<circle cx="1722.9" cy="341.5" r="1.9" fill="#222" fill-opacity=".38"/>
<circle cx="1722.9" cy="483.5" r="1.9" fill="#222" fill-opacity=".38"/>
<path d="M144.8 1049.2C144.6 1051.0 144.5 1056.3 143.8 1059.7C143.0 1063.1 141.1 1066.8 140.3 1069.7C139.4 1072.6 138.6 1074.7 138.5 1077.2C138.4 1079.7 139.4 1082.2 139.8 1084.7C140.2 1087.2 141.6 1089.7 141.0 1092.2C140.4 1094.7 138.7 1097.2 136.0 1099.7C133.3 1102.2 128.7 1104.6 124.8 1107.1C120.8 1109.6 116.1 1112.1 112.3 1114.6C108.6 1117.1 104.8 1119.8 102.3 1122.1C99.8 1124.4 98.4 1126.7 97.3 1128.4C96.3 1130.0 96.0 1130.6 96.1 1132.1C96.2 1133.6 95.8 1135.0 97.8 1137.1C99.9 1139.2 104.8 1142.1 108.6 1144.6C112.3 1147.1 117.2 1149.6 120.3 1152.1C123.4 1154.6 125.5 1157.1 127.3 1159.6C129.1 1162.1 129.9 1164.5 131.0 1167.0C132.2 1169.5 133.1 1171.5 134.0 1174.5C135.0 1177.6 136.3 1183.5 136.8 1185.3L165.2 1185.3C165.7 1183.5 167.0 1177.6 168.0 1174.5C168.9 1171.5 169.8 1169.5 171.0 1167.0C172.1 1164.5 172.9 1162.1 174.7 1159.6C176.5 1157.1 178.6 1154.6 181.7 1152.1C184.8 1149.6 189.7 1147.1 193.4 1144.6C197.2 1142.1 202.1 1139.2 204.2 1137.1C206.2 1135.0 205.8 1133.6 205.9 1132.1C206.0 1130.6 205.7 1130.0 204.7 1128.4C203.6 1126.7 202.2 1124.4 199.7 1122.1C197.2 1119.8 193.4 1117.1 189.7 1114.6C185.9 1112.1 181.2 1109.6 177.2 1107.1C173.3 1104.6 168.7 1102.2 166.0 1099.7C163.3 1097.2 161.6 1094.7 161.0 1092.2C160.4 1089.7 161.8 1087.2 162.2 1084.7C162.6 1082.2 163.6 1079.7 163.5 1077.2C163.4 1074.7 162.6 1072.6 161.7 1069.7C160.9 1066.8 159.0 1063.1 158.2 1059.7C157.5 1056.3 157.4 1051.0 157.2 1049.2Z" fill="#F25F5C" stroke="#3d3d3d" stroke-opacity=".8" stroke-width="1.15"/>
<line x1="151.0" y1="1074.7" x2="151.0" y2="1185.3" class="wk"/>
<rect x="144.8" y="1116.4" width="12.4" height="28.2" fill="#F25F5C" class="bx"/>
<line x1="144.8" y1="1132.1" x2="157.2" y2="1132.1" class="md"/>
<circle cx="151.0" cy="1050.0" r="1.9" fill="#222" fill-opacity=".38"/>
<path d="M266.7 1027.0C266.7 1029.1 266.4 1035.7 266.5 1040.0C266.5 1044.2 266.9 1048.3 267.0 1052.4C267.0 1056.6 267.1 1060.8 267.0 1064.9C266.8 1069.1 266.6 1073.2 266.2 1077.4C265.8 1081.5 265.3 1085.7 264.5 1089.9C263.6 1094.0 262.5 1098.2 261.2 1102.3C260.0 1106.5 258.4 1110.7 257.0 1114.8C255.5 1119.0 253.9 1123.1 252.5 1127.3C251.1 1131.5 249.9 1135.6 248.7 1139.8C247.6 1143.9 246.5 1148.1 245.7 1152.3C245.0 1156.4 244.5 1161.4 244.2 1164.7C244.0 1168.1 243.9 1169.3 244.0 1172.2C244.1 1175.1 244.3 1178.9 245.0 1182.2C245.7 1185.5 246.8 1188.9 248.0 1192.2C249.2 1195.5 250.5 1198.9 252.0 1202.2C253.4 1205.5 255.2 1208.8 256.7 1212.2C258.3 1215.5 259.8 1218.4 261.2 1222.2C262.7 1225.9 264.3 1230.5 265.5 1234.6C266.6 1238.8 267.3 1243.0 268.0 1247.1C268.6 1251.3 268.9 1255.4 269.2 1259.6C269.5 1263.8 269.8 1267.9 270.0 1272.1C270.1 1276.2 270.2 1279.6 270.2 1284.5C270.2 1289.5 270.0 1298.7 270.0 1301.5L275.4 1301.5C275.4 1298.7 275.2 1289.5 275.2 1284.5C275.2 1279.6 275.3 1276.2 275.4 1272.1C275.6 1267.9 275.9 1263.8 276.2 1259.6C276.5 1255.4 276.8 1251.3 277.4 1247.1C278.1 1243.0 278.8 1238.8 279.9 1234.6C281.1 1230.5 282.7 1225.9 284.2 1222.2C285.6 1218.4 287.1 1215.5 288.7 1212.2C290.2 1208.8 292.0 1205.5 293.4 1202.2C294.9 1198.9 296.2 1195.5 297.4 1192.2C298.6 1188.9 299.7 1185.5 300.4 1182.2C301.1 1178.9 301.3 1175.1 301.4 1172.2C301.5 1169.3 301.4 1168.1 301.2 1164.7C300.9 1161.4 300.4 1156.4 299.7 1152.3C298.9 1148.1 297.8 1143.9 296.7 1139.8C295.5 1135.6 294.3 1131.5 292.9 1127.3C291.5 1123.1 289.9 1119.0 288.4 1114.8C287.0 1110.7 285.4 1106.5 284.2 1102.3C282.9 1098.2 281.8 1094.0 280.9 1089.9C280.1 1085.7 279.6 1081.5 279.2 1077.4C278.8 1073.2 278.6 1069.1 278.4 1064.9C278.3 1060.8 278.4 1056.6 278.4 1052.4C278.5 1048.3 278.9 1044.2 278.9 1040.0C279.0 1035.7 278.7 1029.1 278.7 1027.0Z" fill="#1BB3B7" stroke="#3d3d3d" stroke-opacity=".8" stroke-width="1.15"/>
<line x1="272.7" y1="1064.2" x2="272.7" y2="1246.6" class="wk"/>
<rect x="266.6" y="1129.8" width="12.2" height="58.7" fill="#1BB3B7" class="bx"/>
<line x1="266.6" y1="1170.5" x2="278.8" y2="1170.5" class="md"/>
<circle cx="272.7" cy="1037.0" r="1.9" fill="#222" fill-opacity=".38"/>
<circle cx="272.7" cy="1028.0" r="1.9" fill="#222" fill-opacity=".38"/>
<path d="M390.5 969.4C390.6 971.1 390.8 976.4 391.0 979.9C391.2 983.3 391.7 986.1 391.8 989.8C391.8 993.6 391.5 998.2 391.3 1002.3C391.0 1006.5 390.7 1010.6 390.5 1014.8C390.3 1019.0 390.5 1023.1 390.0 1027.3C389.5 1031.4 388.9 1036.0 387.5 1039.8C386.1 1043.5 384.2 1046.4 381.8 1049.7C379.4 1053.1 375.7 1056.4 373.0 1059.7C370.3 1063.0 367.7 1066.4 365.5 1069.7C363.4 1073.0 361.4 1076.4 360.1 1079.7C358.7 1083.0 357.9 1086.3 357.3 1089.7C356.7 1093.0 356.2 1096.3 356.3 1099.7C356.4 1103.0 356.9 1106.3 358.1 1109.6C359.2 1113.0 361.0 1116.3 363.1 1119.6C365.1 1123.0 367.8 1126.3 370.5 1129.6C373.2 1132.9 376.6 1136.3 379.3 1139.6C382.0 1142.9 384.8 1146.2 386.8 1149.6C388.7 1152.9 390.1 1156.2 391.0 1159.6C391.9 1162.9 392.2 1166.2 392.3 1169.5C392.3 1172.9 391.5 1176.4 391.3 1179.5C391.0 1182.6 390.6 1186.8 390.5 1188.3L398.5 1188.3C398.4 1186.8 398.0 1182.6 397.7 1179.5C397.5 1176.4 396.7 1172.9 396.7 1169.5C396.8 1166.2 397.1 1162.9 398.0 1159.6C398.9 1156.2 400.3 1152.9 402.2 1149.6C404.2 1146.2 407.0 1142.9 409.7 1139.6C412.4 1136.3 415.8 1132.9 418.5 1129.6C421.2 1126.3 423.9 1123.0 425.9 1119.6C428.0 1116.3 429.8 1113.0 430.9 1109.6C432.1 1106.3 432.6 1103.0 432.7 1099.7C432.8 1096.3 432.3 1093.0 431.7 1089.7C431.1 1086.3 430.3 1083.0 428.9 1079.7C427.6 1076.4 425.6 1073.0 423.5 1069.7C421.3 1066.4 418.7 1063.0 416.0 1059.7C413.3 1056.4 409.6 1053.1 407.2 1049.7C404.8 1046.4 402.9 1043.5 401.5 1039.8C400.1 1036.0 399.5 1031.4 399.0 1027.3C398.5 1023.1 398.7 1019.0 398.5 1014.8C398.3 1010.6 398.0 1006.5 397.7 1002.3C397.5 998.2 397.2 993.6 397.2 989.8C397.3 986.1 397.8 983.3 398.0 979.9C398.2 976.4 398.4 971.1 398.5 969.4Z" fill="#F25F5C" stroke="#3d3d3d" stroke-opacity=".8" stroke-width="1.15"/>
<line x1="394.5" y1="1018.0" x2="394.5" y2="1136.6" class="wk"/>
<rect x="388.2" y="1077.2" width="12.6" height="41.9" fill="#F25F5C" class="bx"/>
<line x1="388.2" y1="1100.4" x2="400.8" y2="1100.4" class="md"/>
<circle cx="394.5" cy="970.5" r="1.9" fill="#222" fill-opacity=".38"/>
<circle cx="394.5" cy="1187.5" r="1.9" fill="#222" fill-opacity=".38"/>
<path d="M507.5 1047.9C506.8 1049.1 504.3 1052.5 503.2 1054.9C502.1 1057.3 501.2 1059.9 500.7 1062.4C500.2 1064.9 500.1 1067.4 500.2 1069.9C500.4 1072.4 501.7 1074.9 501.5 1077.4C501.3 1079.9 501.0 1082.4 499.0 1084.9C497.0 1087.4 492.7 1089.9 489.5 1092.4C486.2 1094.9 482.2 1097.4 479.5 1099.9C476.8 1102.3 474.7 1104.8 473.3 1107.3C471.8 1109.8 471.3 1112.7 470.8 1114.8C470.3 1116.9 469.9 1117.7 470.3 1119.8C470.7 1121.9 471.5 1124.8 473.3 1127.3C475.0 1129.8 478.1 1132.3 480.8 1134.8C483.5 1137.3 487.0 1139.8 489.5 1142.3C492.0 1144.8 493.9 1147.3 495.7 1149.8C497.6 1152.3 499.2 1154.8 500.7 1157.3C502.3 1159.8 503.7 1162.3 505.0 1164.7C506.2 1167.2 507.1 1169.3 508.2 1172.2C509.3 1175.1 510.5 1178.9 511.5 1182.2C512.4 1185.5 513.3 1188.9 514.0 1192.2C514.6 1195.5 515.0 1199.3 515.2 1202.2C515.4 1205.1 515.3 1207.2 515.0 1209.7C514.6 1212.2 513.8 1214.7 513.2 1217.2C512.6 1219.7 511.6 1222.4 511.2 1224.6C510.8 1226.9 510.8 1229.8 510.7 1230.9L521.7 1230.9C521.6 1229.8 521.6 1226.9 521.2 1224.6C520.8 1222.4 519.8 1219.7 519.2 1217.2C518.6 1214.7 517.8 1212.2 517.4 1209.7C517.1 1207.2 517.0 1205.1 517.2 1202.2C517.4 1199.3 517.8 1195.5 518.4 1192.2C519.1 1188.9 520.0 1185.5 520.9 1182.2C521.9 1178.9 523.1 1175.1 524.2 1172.2C525.3 1169.3 526.2 1167.2 527.4 1164.7C528.7 1162.3 530.1 1159.8 531.7 1157.3C533.2 1154.8 534.8 1152.3 536.7 1149.8C538.5 1147.3 540.4 1144.8 542.9 1142.3C545.4 1139.8 548.9 1137.3 551.6 1134.8C554.3 1132.3 557.4 1129.8 559.1 1127.3C560.9 1124.8 561.7 1121.9 562.1 1119.8C562.5 1117.7 562.1 1116.9 561.6 1114.8C561.1 1112.7 560.6 1109.8 559.1 1107.3C557.7 1104.8 555.6 1102.3 552.9 1099.9C550.2 1097.4 546.2 1094.9 542.9 1092.4C539.7 1089.9 535.4 1087.4 533.4 1084.9C531.4 1082.4 531.1 1079.9 530.9 1077.4C530.7 1074.9 532.0 1072.4 532.2 1069.9C532.3 1067.4 532.2 1064.9 531.7 1062.4C531.2 1059.9 530.3 1057.3 529.2 1054.9C528.1 1052.5 525.6 1049.1 524.9 1047.9Z" fill="#1BB3B7" stroke="#3d3d3d" stroke-opacity=".8" stroke-width="1.15"/>
<line x1="516.2" y1="1064.4" x2="516.2" y2="1154.0" class="wk"/>
<rect x="510.0" y="1103.1" width="12.4" height="28.7" fill="#1BB3B7" class="bx"/>
<line x1="510.0" y1="1119.8" x2="522.4" y2="1119.8" class="md"/>
<circle cx="516.2" cy="1176.5" r="1.9" fill="#222" fill-opacity=".38"/>
<circle cx="516.2" cy="1049.0" r="1.9" fill="#222" fill-opacity=".38"/>
<circle cx="516.2" cy="1230.0" r="1.9" fill="#222" fill-opacity=".38"/>
<path d="M725.5 1050.5C723.5 1051.6 717.4 1054.9 713.5 1057.2C709.6 1059.6 705.0 1062.2 702.3 1064.7C699.6 1067.2 698.2 1069.9 697.3 1072.2C696.3 1074.5 696.3 1076.4 696.5 1078.5C696.7 1080.5 697.5 1082.4 698.5 1084.7C699.6 1087.0 701.4 1089.7 702.8 1092.2C704.2 1094.7 705.6 1097.2 706.8 1099.7C707.9 1102.2 708.6 1104.7 709.8 1107.2C710.9 1109.7 712.1 1112.2 713.5 1114.6C715.0 1117.1 716.8 1119.6 718.5 1122.1C720.3 1124.6 722.2 1127.1 724.0 1129.6C725.8 1132.1 727.7 1134.6 729.2 1137.1C730.8 1139.6 732.3 1142.4 733.5 1144.6C734.7 1146.8 736.0 1149.4 736.5 1150.3L766.9 1150.3C767.4 1149.4 768.7 1146.8 769.9 1144.6C771.1 1142.4 772.6 1139.6 774.2 1137.1C775.7 1134.6 777.6 1132.1 779.4 1129.6C781.2 1127.1 783.1 1124.6 784.9 1122.1C786.6 1119.6 788.4 1117.1 789.9 1114.6C791.3 1112.2 792.5 1109.7 793.6 1107.2C794.8 1104.7 795.5 1102.2 796.6 1099.7C797.8 1097.2 799.2 1094.7 800.6 1092.2C802.0 1089.7 803.8 1087.0 804.9 1084.7C805.9 1082.4 806.7 1080.5 806.9 1078.5C807.1 1076.4 807.1 1074.5 806.1 1072.2C805.2 1069.9 803.8 1067.2 801.1 1064.7C798.4 1062.2 793.8 1059.6 789.9 1057.2C786.0 1054.9 779.9 1051.6 777.9 1050.5Z" fill="#F25F5C" stroke="#3d3d3d" stroke-opacity=".8" stroke-width="1.15"/>
<line x1="751.7" y1="1050.5" x2="751.7" y2="1150.3" class="wk"/>
<rect x="745.5" y="1071.7" width="12.4" height="42.2" fill="#F25F5C" class="bx"/>
<line x1="745.5" y1="1090.4" x2="757.9" y2="1090.4" class="md"/>
<path d="M859.5 1049.2C858.6 1050.6 855.4 1054.8 854.5 1057.4C853.5 1060.0 853.8 1062.4 853.7 1064.9C853.7 1067.4 854.0 1069.9 854.2 1072.4C854.4 1074.9 854.9 1077.4 855.0 1079.9C855.1 1082.4 855.6 1084.9 855.0 1087.4C854.4 1089.9 853.1 1092.4 851.2 1094.9C849.4 1097.4 846.5 1099.9 843.7 1102.3C841.0 1104.8 837.4 1107.3 834.5 1109.8C831.6 1112.3 828.6 1114.8 826.3 1117.3C824.0 1119.8 821.8 1122.8 820.8 1124.8C819.7 1126.8 819.7 1127.6 820.0 1129.3C820.3 1131.0 820.7 1132.6 822.5 1134.8C824.4 1137.0 827.9 1139.8 831.3 1142.3C834.6 1144.8 839.2 1147.3 842.5 1149.8C845.8 1152.3 849.0 1154.8 851.2 1157.3C853.4 1159.8 854.6 1161.8 855.7 1164.7C856.9 1167.7 857.2 1171.4 858.0 1174.7C858.8 1178.1 859.4 1181.0 860.5 1184.7C861.6 1188.5 863.1 1193.0 864.5 1197.2C865.8 1201.4 867.5 1205.5 868.7 1209.7C870.0 1213.8 871.2 1218.0 872.0 1222.2C872.7 1226.3 873.0 1230.5 873.2 1234.6C873.5 1238.8 873.5 1243.0 873.5 1247.1C873.5 1251.3 873.5 1255.4 873.2 1259.6C873.0 1263.8 872.6 1267.9 872.0 1272.1C871.3 1276.2 870.1 1280.5 869.5 1284.5C868.8 1288.6 868.4 1294.5 868.2 1296.5L879.2 1296.5C879.0 1294.5 878.6 1288.6 877.9 1284.5C877.3 1280.5 876.1 1276.2 875.4 1272.1C874.8 1267.9 874.4 1263.8 874.2 1259.6C873.9 1255.4 873.9 1251.3 873.9 1247.1C873.9 1243.0 873.9 1238.8 874.2 1234.6C874.4 1230.5 874.7 1226.3 875.4 1222.2C876.2 1218.0 877.4 1213.8 878.7 1209.7C879.9 1205.5 881.6 1201.4 882.9 1197.2C884.3 1193.0 885.8 1188.5 886.9 1184.7C888.0 1181.0 888.6 1178.1 889.4 1174.7C890.2 1171.4 890.5 1167.7 891.7 1164.7C892.8 1161.8 894.0 1159.8 896.2 1157.3C898.4 1154.8 901.6 1152.3 904.9 1149.8C908.2 1147.3 912.8 1144.8 916.1 1142.3C919.5 1139.8 923.0 1137.0 924.9 1134.8C926.7 1132.6 927.1 1131.0 927.4 1129.3C927.7 1127.6 927.7 1126.8 926.6 1124.8C925.6 1122.8 923.4 1119.8 921.1 1117.3C918.8 1114.8 915.8 1112.3 912.9 1109.8C910.0 1107.3 906.4 1104.8 903.7 1102.3C900.9 1099.9 898.0 1097.4 896.2 1094.9C894.3 1092.4 893.0 1089.9 892.4 1087.4C891.8 1084.9 892.3 1082.4 892.4 1079.9C892.5 1077.4 893.0 1074.9 893.2 1072.4C893.4 1069.9 893.7 1067.4 893.7 1064.9C893.6 1062.4 893.9 1060.0 892.9 1057.4C892.0 1054.8 888.8 1050.6 887.9 1049.2Z" fill="#1BB3B7" stroke="#3d3d3d" stroke-opacity=".8" stroke-width="1.15"/>
<line x1="873.7" y1="1049.2" x2="873.7" y2="1183.0" class="wk"/>
<rect x="867.5" y="1106.1" width="12.4" height="38.7" fill="#1BB3B7" class="bx"/>
<line x1="867.5" y1="1126.8" x2="879.9" y2="1126.8" class="md"/>
<circle cx="873.7" cy="1203.9" r="1.9" fill="#222" fill-opacity=".38"/>
<circle cx="873.7" cy="1295.5" r="1.9" fill="#222" fill-opacity=".38"/>
<path d="M988.8 1007.3C988.2 1008.6 987.1 1012.3 985.5 1014.8C983.9 1017.3 981.7 1019.8 979.3 1022.3C976.9 1024.8 973.7 1027.3 971.0 1029.8C968.3 1032.3 965.4 1034.8 963.1 1037.3C960.7 1039.8 958.7 1042.3 956.8 1044.8C954.9 1047.3 953.2 1049.8 951.8 1052.3C950.5 1054.7 949.5 1057.2 948.8 1059.7C948.1 1062.2 947.8 1065.1 947.6 1067.2C947.3 1069.3 947.1 1070.1 947.3 1072.2C947.5 1074.3 948.1 1077.2 948.8 1079.7C949.6 1082.2 950.5 1084.7 951.8 1087.2C953.2 1089.7 954.9 1092.2 956.8 1094.7C958.7 1097.2 961.2 1099.7 963.1 1102.2C964.9 1104.7 966.6 1107.2 968.0 1109.7C969.5 1112.2 970.7 1114.6 971.8 1117.1C972.9 1119.6 973.7 1121.7 974.8 1124.6C975.9 1127.5 977.4 1131.3 978.5 1134.6C979.7 1137.9 980.7 1141.3 981.8 1144.6C982.8 1147.9 983.9 1151.6 984.8 1154.6C985.6 1157.6 986.4 1161.2 986.8 1162.6L1004.2 1162.6C1004.6 1161.2 1005.4 1157.6 1006.2 1154.6C1007.1 1151.6 1008.2 1147.9 1009.2 1144.6C1010.3 1141.3 1011.3 1137.9 1012.5 1134.6C1013.6 1131.3 1015.1 1127.5 1016.2 1124.6C1017.3 1121.7 1018.1 1119.6 1019.2 1117.1C1020.3 1114.6 1021.5 1112.2 1023.0 1109.7C1024.4 1107.2 1026.1 1104.7 1027.9 1102.2C1029.8 1099.7 1032.3 1097.2 1034.2 1094.7C1036.1 1092.2 1037.8 1089.7 1039.2 1087.2C1040.5 1084.7 1041.4 1082.2 1042.2 1079.7C1042.9 1077.2 1043.5 1074.3 1043.7 1072.2C1043.9 1070.1 1043.7 1069.3 1043.4 1067.2C1043.2 1065.1 1042.9 1062.2 1042.2 1059.7C1041.5 1057.2 1040.5 1054.7 1039.2 1052.3C1037.8 1049.8 1036.1 1047.3 1034.2 1044.8C1032.3 1042.3 1030.3 1039.8 1027.9 1037.3C1025.6 1034.8 1022.7 1032.3 1020.0 1029.8C1017.3 1027.3 1014.1 1024.8 1011.7 1022.3C1009.3 1019.8 1007.1 1017.3 1005.5 1014.8C1003.9 1012.3 1002.8 1008.6 1002.2 1007.3Z" fill="#F25F5C" stroke="#3d3d3d" stroke-opacity=".8" stroke-width="1.15"/>
<line x1="995.5" y1="1007.3" x2="995.5" y2="1162.4" class="wk"/>
<rect x="989.1" y="1054.7" width="12.8" height="44.2" fill="#F25F5C" class="bx"/>
<line x1="989.1" y1="1080.2" x2="1001.9" y2="1080.2" class="md"/>
<path d="M1104.9 1038.7C1104.2 1040.2 1102.0 1044.7 1100.7 1047.4C1099.3 1050.1 1098.4 1052.4 1096.9 1054.9C1095.5 1057.4 1093.8 1059.9 1091.9 1062.4C1090.1 1064.9 1088.0 1067.4 1085.7 1069.9C1083.4 1072.4 1080.5 1074.9 1078.2 1077.4C1075.9 1079.9 1073.8 1082.4 1072.0 1084.9C1070.1 1087.4 1068.2 1089.9 1067.0 1092.4C1065.7 1094.9 1065.0 1097.8 1064.5 1099.9C1064.0 1101.9 1063.8 1102.8 1064.0 1104.8C1064.2 1106.9 1064.6 1109.8 1065.7 1112.3C1066.9 1114.8 1068.4 1117.3 1070.7 1119.8C1073.0 1122.3 1076.1 1124.8 1079.5 1127.3C1082.8 1129.8 1087.2 1132.3 1090.7 1134.8C1094.2 1137.3 1097.8 1139.8 1100.7 1142.3C1103.6 1144.8 1106.2 1147.3 1108.2 1149.8C1110.1 1152.3 1111.4 1154.8 1112.4 1157.3C1113.4 1159.8 1114.0 1162.3 1114.4 1164.7C1114.8 1167.2 1115.0 1169.7 1114.9 1172.2C1114.8 1174.7 1114.5 1177.2 1113.9 1179.7C1113.3 1182.2 1112.2 1184.7 1111.4 1187.2C1110.6 1189.7 1109.5 1192.2 1108.9 1194.7C1108.3 1197.2 1107.9 1199.8 1107.7 1202.2C1107.4 1204.6 1107.5 1207.8 1107.4 1208.9L1127.4 1208.9C1127.3 1207.8 1127.4 1204.6 1127.1 1202.2C1126.9 1199.8 1126.5 1197.2 1125.9 1194.7C1125.3 1192.2 1124.2 1189.7 1123.4 1187.2C1122.6 1184.7 1121.5 1182.2 1120.9 1179.7C1120.3 1177.2 1120.0 1174.7 1119.9 1172.2C1119.8 1169.7 1120.0 1167.2 1120.4 1164.7C1120.8 1162.3 1121.4 1159.8 1122.4 1157.3C1123.4 1154.8 1124.7 1152.3 1126.6 1149.8C1128.6 1147.3 1131.2 1144.8 1134.1 1142.3C1137.0 1139.8 1140.6 1137.3 1144.1 1134.8C1147.6 1132.3 1152.0 1129.8 1155.3 1127.3C1158.7 1124.8 1161.8 1122.3 1164.1 1119.8C1166.4 1117.3 1167.9 1114.8 1169.1 1112.3C1170.2 1109.8 1170.6 1106.9 1170.8 1104.8C1171.0 1102.8 1170.8 1101.9 1170.3 1099.9C1169.8 1097.8 1169.1 1094.9 1167.8 1092.4C1166.6 1089.9 1164.7 1087.4 1162.8 1084.9C1161.0 1082.4 1158.9 1079.9 1156.6 1077.4C1154.3 1074.9 1151.4 1072.4 1149.1 1069.9C1146.8 1067.4 1144.7 1064.9 1142.9 1062.4C1141.0 1059.9 1139.3 1057.4 1137.9 1054.9C1136.4 1052.4 1135.5 1050.1 1134.1 1047.4C1132.8 1044.7 1130.6 1040.2 1129.9 1038.7Z" fill="#1BB3B7" stroke="#3d3d3d" stroke-opacity=".8" stroke-width="1.15"/>
<line x1="1117.4" y1="1038.7" x2="1117.4" y2="1137.3" class="wk"/>
<rect x="1111.2" y="1084.4" width="12.4" height="40.9" fill="#1BB3B7" class="bx"/>
<line x1="1111.2" y1="1101.8" x2="1123.6" y2="1101.8" class="md"/>
<circle cx="1117.4" cy="1201.7" r="1.9" fill="#222" fill-opacity=".38"/>
<circle cx="1117.4" cy="1208.5" r="1.9" fill="#222" fill-opacity=".38"/>
<path d="M1346.7 1013.6C1346.7 1015.0 1346.7 1019.6 1346.5 1022.3C1346.2 1025.0 1345.9 1027.3 1345.2 1029.8C1344.5 1032.3 1343.4 1034.8 1342.2 1037.3C1341.0 1039.8 1339.4 1041.9 1338.0 1044.8C1336.5 1047.7 1335.0 1051.4 1333.5 1054.7C1332.0 1058.1 1330.5 1061.4 1329.0 1064.7C1327.4 1068.1 1325.9 1071.4 1324.2 1074.7C1322.6 1078.0 1320.8 1081.4 1319.0 1084.7C1317.2 1088.0 1315.1 1091.4 1313.5 1094.7C1312.0 1098.0 1310.7 1101.3 1309.8 1104.7C1308.8 1108.0 1308.2 1111.7 1307.8 1114.6C1307.4 1117.6 1307.2 1119.6 1307.3 1122.1C1307.3 1124.6 1307.6 1127.1 1308.0 1129.6C1308.4 1132.1 1308.9 1134.6 1309.8 1137.1C1310.7 1139.6 1312.0 1142.1 1313.5 1144.6C1315.1 1147.1 1317.1 1149.7 1319.0 1152.1C1320.9 1154.5 1323.8 1157.9 1324.7 1159.1L1380.7 1159.1C1381.6 1157.9 1384.5 1154.5 1386.4 1152.1C1388.3 1149.7 1390.3 1147.1 1391.9 1144.6C1393.4 1142.1 1394.7 1139.6 1395.6 1137.1C1396.5 1134.6 1397.0 1132.1 1397.4 1129.6C1397.8 1127.1 1398.1 1124.6 1398.1 1122.1C1398.2 1119.6 1398.0 1117.6 1397.6 1114.6C1397.2 1111.7 1396.6 1108.0 1395.6 1104.7C1394.7 1101.3 1393.4 1098.0 1391.9 1094.7C1390.3 1091.4 1388.2 1088.0 1386.4 1084.7C1384.6 1081.4 1382.8 1078.0 1381.2 1074.7C1379.5 1071.4 1378.0 1068.1 1376.4 1064.7C1374.9 1061.4 1373.4 1058.1 1371.9 1054.7C1370.4 1051.4 1368.9 1047.7 1367.4 1044.8C1366.0 1041.9 1364.4 1039.8 1363.2 1037.3C1362.0 1034.8 1360.9 1032.3 1360.2 1029.8C1359.5 1027.3 1359.2 1025.0 1358.9 1022.3C1358.7 1019.6 1358.7 1015.0 1358.7 1013.6Z" fill="#F25F5C" stroke="#3d3d3d" stroke-opacity=".8" stroke-width="1.15"/>
<line x1="1352.7" y1="1054.7" x2="1352.7" y2="1159.1" class="wk"/>
<rect x="1346.6" y="1088.4" width="12.2" height="46.7" fill="#F25F5C" class="bx"/>
<line x1="1346.6" y1="1112.1" x2="1358.8" y2="1112.1" class="md"/>
<circle cx="1352.7" cy="1014.5" r="1.9" fill="#222" fill-opacity=".38"/>
<path d="M1466.8 1051.9C1466.3 1053.3 1465.0 1057.3 1463.8 1059.9C1462.6 1062.5 1461.1 1064.9 1459.6 1067.4C1458.0 1069.9 1456.4 1072.4 1454.6 1074.9C1452.8 1077.4 1450.6 1079.9 1448.8 1082.4C1447.1 1084.9 1445.3 1087.4 1443.8 1089.9C1442.4 1092.4 1441.1 1094.9 1440.1 1097.4C1439.1 1099.9 1438.5 1102.3 1437.9 1104.8C1437.2 1107.3 1436.7 1109.8 1436.4 1112.3C1436.0 1114.8 1435.9 1117.3 1435.9 1119.8C1435.9 1122.3 1436.1 1124.8 1436.4 1127.3C1436.7 1129.8 1437.0 1131.9 1437.6 1134.8C1438.2 1137.7 1439.1 1141.5 1440.1 1144.8C1441.1 1148.1 1442.2 1151.4 1443.4 1154.8C1444.5 1158.1 1445.8 1161.4 1447.1 1164.7C1448.4 1168.1 1449.9 1171.4 1451.3 1174.7C1452.8 1178.1 1454.2 1181.4 1455.6 1184.7C1456.9 1188.0 1458.1 1191.4 1459.3 1194.7C1460.5 1198.0 1461.8 1201.4 1462.8 1204.7C1463.9 1208.0 1464.9 1211.3 1465.6 1214.7C1466.3 1218.0 1466.7 1221.3 1467.1 1224.6C1467.4 1228.0 1467.4 1231.3 1467.6 1234.6C1467.7 1238.0 1467.7 1241.4 1467.8 1244.6C1467.9 1247.8 1468.0 1252.3 1468.1 1253.8L1480.5 1253.8C1480.6 1252.3 1480.7 1247.8 1480.8 1244.6C1480.9 1241.4 1480.9 1238.0 1481.0 1234.6C1481.2 1231.3 1481.2 1228.0 1481.5 1224.6C1481.9 1221.3 1482.3 1218.0 1483.0 1214.7C1483.7 1211.3 1484.7 1208.0 1485.8 1204.7C1486.8 1201.4 1488.1 1198.0 1489.3 1194.7C1490.5 1191.4 1491.7 1188.0 1493.0 1184.7C1494.4 1181.4 1495.8 1178.1 1497.3 1174.7C1498.7 1171.4 1500.2 1168.1 1501.5 1164.7C1502.8 1161.4 1504.1 1158.1 1505.2 1154.8C1506.4 1151.4 1507.5 1148.1 1508.5 1144.8C1509.5 1141.5 1510.4 1137.7 1511.0 1134.8C1511.6 1131.9 1511.9 1129.8 1512.2 1127.3C1512.5 1124.8 1512.7 1122.3 1512.7 1119.8C1512.7 1117.3 1512.6 1114.8 1512.2 1112.3C1511.9 1109.8 1511.4 1107.3 1510.7 1104.8C1510.1 1102.3 1509.5 1099.9 1508.5 1097.4C1507.5 1094.9 1506.2 1092.4 1504.8 1089.9C1503.3 1087.4 1501.5 1084.9 1499.8 1082.4C1498.0 1079.9 1495.8 1077.4 1494.0 1074.9C1492.2 1072.4 1490.6 1069.9 1489.0 1067.4C1487.5 1064.9 1486.0 1062.5 1484.8 1059.9C1483.6 1057.3 1482.3 1053.3 1481.8 1051.9Z" fill="#1BB3B7" stroke="#3d3d3d" stroke-opacity=".8" stroke-width="1.15"/>
<line x1="1474.3" y1="1051.9" x2="1474.3" y2="1253.8" class="wk"/>
<rect x="1468.0" y="1106.1" width="12.6" height="64.1" fill="#1BB3B7" class="bx"/>
<line x1="1468.0" y1="1127.3" x2="1480.6" y2="1127.3" class="md"/>
<path d="M1588.7 1006.1C1588.6 1007.5 1588.5 1012.1 1588.2 1014.8C1587.9 1017.5 1587.5 1019.8 1586.9 1022.3C1586.3 1024.8 1585.5 1027.3 1584.4 1029.8C1583.4 1032.3 1582.1 1034.8 1580.7 1037.3C1579.2 1039.8 1577.6 1042.3 1575.7 1044.8C1573.8 1047.3 1571.7 1049.8 1569.4 1052.3C1567.2 1054.7 1564.5 1057.2 1562.0 1059.7C1559.5 1062.2 1556.8 1064.7 1554.5 1067.2C1552.2 1069.7 1550.1 1072.2 1548.2 1074.7C1546.4 1077.2 1544.4 1079.7 1543.2 1082.2C1542.1 1084.7 1541.2 1087.2 1541.2 1089.7C1541.2 1092.2 1541.9 1094.7 1543.2 1097.2C1544.6 1099.7 1546.8 1102.2 1549.5 1104.7C1552.2 1107.2 1556.2 1109.7 1559.5 1112.2C1562.7 1114.6 1566.7 1117.1 1568.9 1119.6C1571.2 1122.1 1572.4 1124.6 1573.2 1127.1C1574.0 1129.6 1573.4 1132.1 1573.9 1134.6C1574.5 1137.1 1575.3 1139.6 1576.4 1142.1C1577.6 1144.6 1579.2 1147.1 1580.7 1149.6C1582.1 1152.1 1583.9 1154.6 1585.2 1157.1C1586.4 1159.6 1587.5 1162.1 1588.2 1164.6C1588.9 1167.1 1589.2 1169.1 1589.4 1172.1C1589.6 1175.0 1589.4 1180.4 1589.4 1182.0L1603.4 1182.0C1603.4 1180.4 1603.2 1175.0 1603.4 1172.1C1603.6 1169.1 1603.9 1167.1 1604.6 1164.6C1605.3 1162.1 1606.4 1159.6 1607.6 1157.1C1608.9 1154.6 1610.7 1152.1 1612.1 1149.6C1613.6 1147.1 1615.2 1144.6 1616.4 1142.1C1617.5 1139.6 1618.3 1137.1 1618.9 1134.6C1619.4 1132.1 1618.8 1129.6 1619.6 1127.1C1620.4 1124.6 1621.6 1122.1 1623.9 1119.6C1626.1 1117.1 1630.1 1114.6 1633.3 1112.2C1636.6 1109.7 1640.6 1107.2 1643.3 1104.7C1646.0 1102.2 1648.2 1099.7 1649.6 1097.2C1650.9 1094.7 1651.6 1092.2 1651.6 1089.7C1651.6 1087.2 1650.7 1084.7 1649.6 1082.2C1648.4 1079.7 1646.4 1077.2 1644.6 1074.7C1642.7 1072.2 1640.6 1069.7 1638.3 1067.2C1636.0 1064.7 1633.3 1062.2 1630.8 1059.7C1628.3 1057.2 1625.6 1054.7 1623.4 1052.3C1621.1 1049.8 1619.0 1047.3 1617.1 1044.8C1615.2 1042.3 1613.6 1039.8 1612.1 1037.3C1610.7 1034.8 1609.4 1032.3 1608.4 1029.8C1607.3 1027.3 1606.5 1024.8 1605.9 1022.3C1605.3 1019.8 1604.9 1017.5 1604.6 1014.8C1604.3 1012.1 1604.2 1007.5 1604.1 1006.1Z" fill="#F25F5C" stroke="#3d3d3d" stroke-opacity=".8" stroke-width="1.15"/>
<line x1="1596.4" y1="1033.5" x2="1596.4" y2="1144.1" class="wk"/>
<rect x="1590.2" y="1070.5" width="12.4" height="39.2" fill="#F25F5C" class="bx"/>
<line x1="1590.2" y1="1093.9" x2="1602.6" y2="1093.9" class="md"/>
<circle cx="1596.4" cy="1007.0" r="1.9" fill="#222" fill-opacity=".38"/>
<circle cx="1596.4" cy="1181.0" r="1.9" fill="#222" fill-opacity=".38"/>
<path d="M1701.5 1038.7C1700.8 1040.2 1698.3 1044.7 1697.2 1047.4C1696.2 1050.1 1695.7 1052.4 1695.2 1054.9C1694.7 1057.4 1694.4 1059.9 1694.2 1062.4C1694.1 1064.9 1694.2 1067.4 1694.2 1069.9C1694.3 1072.4 1694.7 1074.9 1694.7 1077.4C1694.8 1079.9 1695.0 1082.4 1694.7 1084.9C1694.4 1087.4 1693.8 1089.9 1693.0 1092.4C1692.2 1094.9 1690.9 1097.4 1689.7 1099.9C1688.6 1102.3 1687.1 1104.8 1686.0 1107.3C1684.9 1109.8 1683.8 1112.3 1683.0 1114.8C1682.2 1117.3 1681.5 1119.8 1681.0 1122.3C1680.6 1124.8 1680.3 1127.3 1680.3 1129.8C1680.3 1132.3 1680.5 1134.8 1681.0 1137.3C1681.6 1139.8 1682.5 1142.3 1683.5 1144.8C1684.5 1147.3 1686.0 1149.8 1687.3 1152.3C1688.5 1154.8 1689.7 1157.3 1691.0 1159.8C1692.2 1162.3 1693.5 1164.7 1694.7 1167.2C1696.0 1169.7 1697.3 1172.2 1698.5 1174.7C1699.6 1177.2 1700.7 1179.7 1701.7 1182.2C1702.8 1184.7 1703.8 1187.2 1704.7 1189.7C1705.6 1192.2 1706.5 1194.7 1707.2 1197.2C1707.9 1199.7 1708.4 1202.1 1709.0 1204.7C1709.5 1207.3 1710.2 1211.5 1710.5 1212.9L1725.9 1212.9C1726.2 1211.5 1726.9 1207.3 1727.4 1204.7C1728.0 1202.1 1728.5 1199.7 1729.2 1197.2C1729.9 1194.7 1730.8 1192.2 1731.7 1189.7C1732.6 1187.2 1733.6 1184.7 1734.7 1182.2C1735.7 1179.7 1736.8 1177.2 1737.9 1174.7C1739.1 1172.2 1740.4 1169.7 1741.7 1167.2C1742.9 1164.7 1744.2 1162.3 1745.4 1159.8C1746.7 1157.3 1747.9 1154.8 1749.1 1152.3C1750.4 1149.8 1751.9 1147.3 1752.9 1144.8C1753.9 1142.3 1754.8 1139.8 1755.4 1137.3C1755.9 1134.8 1756.1 1132.3 1756.1 1129.8C1756.1 1127.3 1755.8 1124.8 1755.4 1122.3C1754.9 1119.8 1754.2 1117.3 1753.4 1114.8C1752.6 1112.3 1751.5 1109.8 1750.4 1107.3C1749.3 1104.8 1747.8 1102.3 1746.7 1099.9C1745.5 1097.4 1744.2 1094.9 1743.4 1092.4C1742.6 1089.9 1742.0 1087.4 1741.7 1084.9C1741.4 1082.4 1741.6 1079.9 1741.7 1077.4C1741.7 1074.9 1742.1 1072.4 1742.2 1069.9C1742.2 1067.4 1742.3 1064.9 1742.2 1062.4C1742.0 1059.9 1741.7 1057.4 1741.2 1054.9C1740.7 1052.4 1740.2 1050.1 1739.2 1047.4C1738.1 1044.7 1735.6 1040.2 1734.9 1038.7Z" fill="#1BB3B7" stroke="#3d3d3d" stroke-opacity=".8" stroke-width="1.15"/>
<line x1="1718.2" y1="1038.7" x2="1718.2" y2="1212.9" class="wk"/>
<rect x="1712.0" y="1076.1" width="12.4" height="69.2" fill="#1BB3B7" class="bx"/>
<line x1="1712.0" y1="1126.6" x2="1724.4" y2="1126.6" class="md"/>
<text class="as" transform="translate(390.0 206.7) scale(1 1.22)">*</text>
<text class="as" transform="translate(406.2 206.7) scale(1 1.22)">*</text>
<text class="as" transform="translate(422.2 206.7) scale(1 1.22)">*</text>
<text class="as" transform="translate(267.5 237.8) scale(1 1.22)">*</text>
<text class="as" transform="translate(283.4 237.8) scale(1 1.22)">*</text>
<text class="as" transform="translate(299.5 237.8) scale(1 1.22)">*</text>
<text class="as" transform="translate(465.3 260.7) scale(1 1.22)">*</text>
<text class="as" transform="translate(222.5 288.6) scale(1 1.22)">*</text>
<text class="as" transform="translate(990.1 190.6) scale(1 1.22)">*</text>
<text class="as" transform="translate(1006.3 190.6) scale(1 1.22)">*</text>
<text class="as" transform="translate(1022.5 190.6) scale(1 1.22)">*</text>
<text class="as" transform="translate(859.6 223.6) scale(1 1.22)">*</text>
<text class="as" transform="translate(875.6 223.6) scale(1 1.22)">*</text>
<text class="as" transform="translate(892.0 223.6) scale(1 1.22)">*</text>
<text class="as" transform="translate(822.9 258.2) scale(1 1.22)">*</text>
<text class="as" transform="translate(1594.3 235.1) scale(1 1.22)">*</text>
<text class="as" transform="translate(1610.6 235.1) scale(1 1.22)">*</text>
<text class="as" transform="translate(1626.8 235.1) scale(1 1.22)">*</text>
<text class="as" transform="translate(1464.1 269.8) scale(1 1.22)">*</text>
<text class="as" transform="translate(1480.3 269.8) scale(1 1.22)">*</text>
<text class="as" transform="translate(1496.5 269.8) scale(1 1.22)">*</text>
<text class="as" transform="translate(1420.1 306.8) scale(1 1.22)">*</text>
<text class="as" transform="translate(1663.5 288.8) scale(1 1.22)">*</text>
<text class="as" transform="translate(389.3 932.4) scale(1 1.22)">*</text>
<text class="as" transform="translate(405.6 932.4) scale(1 1.22)">*</text>
<text class="as" transform="translate(258.3 973.1) scale(1 1.22)">*</text>
<text class="as" transform="translate(274.2 973.1) scale(1 1.22)">*</text>
<text class="as" transform="translate(290.3 973.1) scale(1 1.22)">*</text>
<text class="as" transform="translate(867.8 976.4) scale(1 1.22)">*</text>
<text class="as" transform="translate(883.8 976.4) scale(1 1.22)">*</text>
<text class="as" transform="translate(811.4 1027.3) scale(1 1.22)">*</text>
<text class="as" transform="translate(1057.5 1011.0) scale(1 1.22)">*</text>
<text class="as" transform="translate(1414.6 1019.5) scale(1 1.22)">*</text>
<text class="as" transform="translate(1596.8 995.6) scale(1 1.22)">*</text>
<line class="sg" x1="280.3" y1="188.5" x2="527.5" y2="188.5"/>
<line class="sg" x1="157.5" y1="219.6" x2="404.7" y2="219.6"/>
<line class="sg" x1="401.0" y1="242.5" x2="527.8" y2="242.5"/>
<line class="sg" x1="158.0" y1="270.4" x2="284.7" y2="270.4"/>
<line class="sg" x1="880.8" y1="172.4" x2="1128.0" y2="172.4"/>
<line class="sg" x1="757.7" y1="205.4" x2="1004.8" y2="205.4"/>
<line class="sg" x1="758.5" y1="240.0" x2="885.0" y2="240.0"/>
<line class="sg" x1="1484.5" y1="216.9" x2="1732.0" y2="216.9"/>
<line class="sg" x1="1357.7" y1="251.6" x2="1604.8" y2="251.6"/>
<line class="sg" x1="1356.0" y1="288.6" x2="1482.5" y2="288.6"/>
<line class="sg" x1="1599.3" y1="270.6" x2="1726.0" y2="270.6"/>
<line class="sg" x1="273.8" y1="914.2" x2="521.0" y2="914.2"/>
<line class="sg" x1="151.5" y1="954.9" x2="398.1" y2="954.9"/>
<line class="sg" x1="749.0" y1="958.2" x2="996.1" y2="958.2"/>
<line class="sg" x1="746.5" y1="1009.1" x2="873.8" y2="1009.1"/>
<line class="sg" x1="993.1" y1="992.8" x2="1120.0" y2="992.8"/>
<line class="sg" x1="1349.7" y1="1001.3" x2="1477.0" y2="1001.3"/>
<line class="sg" x1="1474.0" y1="977.4" x2="1721.0" y2="977.4"/>
<text class="lb" transform="translate(17.6 39.9) scale(1 1)" font-size="30.8">A.</text>
<text class="lb" transform="translate(22.5 727.4) scale(1.03 1)" font-size="30.6">B.</text>
<text class="lb" transform="translate(170.5 125.5) scale(1 1)" font-size="29.6">SEF</text>
<text class="lb" transform="translate(773.5 125.5) scale(1 1)" font-size="29.6">FEF</text>
<text class="lb" transform="translate(1374.5 126.0) scale(1.03 1)" font-size="29.6">rIFC</text>
<text class="lb" transform="translate(169.8 830.7) scale(1.055 1)" font-size="29">Superior</text>
<text class="lb" transform="translate(169.3 867.3) scale(1.06 1)" font-size="29">Colliculus</text>
<text class="lb" transform="translate(774.3 853.2) scale(1.013 1)" font-size="29.7">Thalamus</text>
<text class="lb" transform="translate(1374.5 852.7) scale(1.017 1)" font-size="30">Caudate</text>
<text class="lb" transform="translate(1769.4 682.2) scale(1.032 1)" font-size="29.5">SIB</text>
<text class="lb" transform="translate(1771.2 713.9) scale(1.014 1)" font-size="29.9">HC</text>
<text class="xl" x="144.6" y="610.0">No–Step</text>
<text class="xl" x="409.1" y="610.0">Redirect</text>
<text class="xl" x="764.6" y="610.5">No–Step</text>
<text class="xl" x="1029.2" y="610.5">Redirect</text>
<text class="xl" x="1360.4" y="609.5">No–Step</text>
<text class="xl" x="1624.7" y="609.5">Redirect</text>
<text class="xl" x="145.9" y="1329.0">No–Step</text>
<text class="xl" x="410.8" y="1329.0">Redirect</text>
<text class="xl" x="765.8" y="1329.0">No–Step</text>
<text class="xl" x="1033.3" y="1329.0">Redirect</text>
<text class="xl" x="1363.9" y="1328.5">No–Step</text>
<text class="xl" x="1628.4" y="1328.5">Redirect</text>
<line x1="128" y1="683.3" x2="1650.5" y2="683.3" stroke="#000" stroke-width="1.3" stroke-dasharray="3 3.1"/>
<rect x="1723.5" y="650.5" width="34" height="39" fill="#F25F5C"/><rect x="1723.5" y="689.5" width="34" height="39" fill="#1BB3B7"/>
<path d="M1723.6 650.5v78M1757.4 650.5v78" stroke="#333" stroke-width=".6" stroke-opacity=".7"/><path d="M1723.5 650.7h34M1723.5 728.2h34" stroke="#333" stroke-width="1.2"/><path d="M1723.5 689.6h34" stroke="#111" stroke-width="2"/>
</svg></body></html>
